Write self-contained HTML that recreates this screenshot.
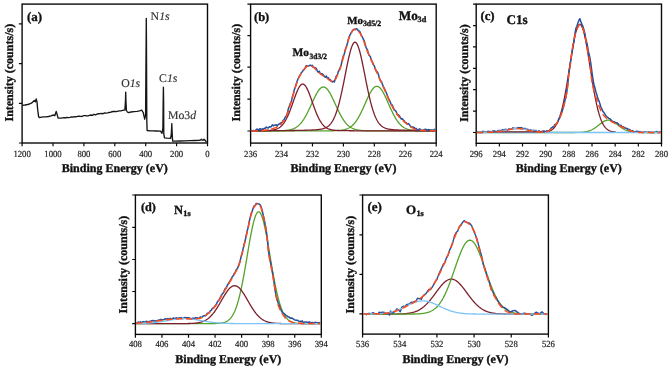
<!DOCTYPE html>
<html><head><meta charset="utf-8"><title>XPS spectra</title>
<style>html,body{margin:0;padding:0;background:#fff;} svg{display:block;will-change:transform;} text{font-family:"Liberation Serif", serif;text-rendering:geometricPrecision;} text[font-weight=bold]{stroke:#111;stroke-width:0.35px;} text.t{stroke:#222;stroke-width:0.2px;} text.l{stroke:#333;stroke-width:0.15px;}</style>
</head><body>
<svg width="669" height="367" viewBox="0 0 669 367" font-family='"Liberation Serif", serif'><rect x="22.1" y="4.1" width="185.4" height="138.9" fill="none" stroke="#0a0a0a" stroke-width="1.4"/>
<text x="22.1" y="156.6" font-size="9.3" text-anchor="middle" fill="#222" class="t" textLength="17.4" lengthAdjust="spacingAndGlyphs">1200</text>
<text x="53" y="156.6" font-size="9.3" text-anchor="middle" fill="#222" class="t" textLength="17.4" lengthAdjust="spacingAndGlyphs">1000</text>
<text x="83.9" y="156.6" font-size="9.3" text-anchor="middle" fill="#222" class="t" textLength="13.05" lengthAdjust="spacingAndGlyphs">800</text>
<text x="114.8" y="156.6" font-size="9.3" text-anchor="middle" fill="#222" class="t" textLength="13.05" lengthAdjust="spacingAndGlyphs">600</text>
<text x="145.7" y="156.6" font-size="9.3" text-anchor="middle" fill="#222" class="t" textLength="13.05" lengthAdjust="spacingAndGlyphs">400</text>
<text x="176.6" y="156.6" font-size="9.3" text-anchor="middle" fill="#222" class="t" textLength="13.05" lengthAdjust="spacingAndGlyphs">200</text>
<text x="207.5" y="156.6" font-size="9.3" text-anchor="middle" fill="#222" class="t" textLength="4.35" lengthAdjust="spacingAndGlyphs">0</text>
<path d="M22.1 143 V146.3 M53 143 V146.3 M83.9 143 V146.3 M114.8 143 V146.3 M145.7 143 V146.3 M176.6 143 V146.3 M207.5 143 V146.3 M18.9 143 H22.1 M18.9 103.3 H22.1 M18.9 63.6 H22.1 M18.9 23.9 H22.1" stroke="#0a0a0a" stroke-width="1.2" fill="none"/>
<text x="114.8" y="171.5" font-size="12" font-weight="bold" text-anchor="middle" fill="#111">Binding Energy (eV)</text>
<text transform="translate(13.4 72.7) rotate(-90)" font-size="12" font-weight="bold" text-anchor="middle" fill="#111">Intensity (counts/s)</text>
<rect x="250.6" y="4.1" width="185.6" height="139" fill="none" stroke="#0a0a0a" stroke-width="1.4"/>
<text x="250.6" y="156.6" font-size="9.3" text-anchor="middle" fill="#222" class="t" textLength="13.05" lengthAdjust="spacingAndGlyphs">236</text>
<text x="281.53" y="156.6" font-size="9.3" text-anchor="middle" fill="#222" class="t" textLength="13.05" lengthAdjust="spacingAndGlyphs">234</text>
<text x="312.47" y="156.6" font-size="9.3" text-anchor="middle" fill="#222" class="t" textLength="13.05" lengthAdjust="spacingAndGlyphs">232</text>
<text x="343.4" y="156.6" font-size="9.3" text-anchor="middle" fill="#222" class="t" textLength="13.05" lengthAdjust="spacingAndGlyphs">230</text>
<text x="374.33" y="156.6" font-size="9.3" text-anchor="middle" fill="#222" class="t" textLength="13.05" lengthAdjust="spacingAndGlyphs">228</text>
<text x="405.27" y="156.6" font-size="9.3" text-anchor="middle" fill="#222" class="t" textLength="13.05" lengthAdjust="spacingAndGlyphs">226</text>
<text x="436.2" y="156.6" font-size="9.3" text-anchor="middle" fill="#222" class="t" textLength="13.05" lengthAdjust="spacingAndGlyphs">224</text>
<path d="M250.6 143.1 V146.4 M281.53 143.1 V146.4 M312.47 143.1 V146.4 M343.4 143.1 V146.4 M374.33 143.1 V146.4 M405.27 143.1 V146.4 M436.2 143.1 V146.4 M247.4 131 H250.6 M247.4 99.1 H250.6 M247.4 67.2 H250.6 M247.4 35.6 H250.6 M247.4 4.1 H250.6" stroke="#0a0a0a" stroke-width="1.2" fill="none"/>
<text x="343.4" y="171.5" font-size="12" font-weight="bold" text-anchor="middle" fill="#111">Binding Energy (eV)</text>
<text transform="translate(240.3 72.7) rotate(-90)" font-size="12" font-weight="bold" text-anchor="middle" fill="#111">Intensity (counts/s)</text>
<rect x="476.2" y="4.1" width="185.3" height="139.2" fill="none" stroke="#0a0a0a" stroke-width="1.4"/>
<text x="476.2" y="156.8" font-size="9.3" text-anchor="middle" fill="#222" class="t" textLength="13.05" lengthAdjust="spacingAndGlyphs">296</text>
<text x="499.36" y="156.8" font-size="9.3" text-anchor="middle" fill="#222" class="t" textLength="13.05" lengthAdjust="spacingAndGlyphs">294</text>
<text x="522.52" y="156.8" font-size="9.3" text-anchor="middle" fill="#222" class="t" textLength="13.05" lengthAdjust="spacingAndGlyphs">292</text>
<text x="545.69" y="156.8" font-size="9.3" text-anchor="middle" fill="#222" class="t" textLength="13.05" lengthAdjust="spacingAndGlyphs">290</text>
<text x="568.85" y="156.8" font-size="9.3" text-anchor="middle" fill="#222" class="t" textLength="13.05" lengthAdjust="spacingAndGlyphs">288</text>
<text x="592.01" y="156.8" font-size="9.3" text-anchor="middle" fill="#222" class="t" textLength="13.05" lengthAdjust="spacingAndGlyphs">286</text>
<text x="615.17" y="156.8" font-size="9.3" text-anchor="middle" fill="#222" class="t" textLength="13.05" lengthAdjust="spacingAndGlyphs">284</text>
<text x="638.34" y="156.8" font-size="9.3" text-anchor="middle" fill="#222" class="t" textLength="13.05" lengthAdjust="spacingAndGlyphs">282</text>
<text x="661.5" y="156.8" font-size="9.3" text-anchor="middle" fill="#222" class="t" textLength="13.05" lengthAdjust="spacingAndGlyphs">280</text>
<path d="M476.2 143.3 V146.6 M499.36 143.3 V146.6 M522.52 143.3 V146.6 M545.69 143.3 V146.6 M568.85 143.3 V146.6 M592.01 143.3 V146.6 M615.17 143.3 V146.6 M638.34 143.3 V146.6 M661.5 143.3 V146.6 M473 132.5 H476.2 M473 111.1 H476.2 M473 89.7 H476.2 M473 68.3 H476.2 M473 46.9 H476.2 M473 25.6 H476.2 M473 4.1 H476.2" stroke="#0a0a0a" stroke-width="1.2" fill="none"/>
<text x="568.85" y="171.8" font-size="12" font-weight="bold" text-anchor="middle" fill="#111">Binding Energy (eV)</text>
<text transform="translate(468.4 73.2) rotate(-90)" font-size="12" font-weight="bold" text-anchor="middle" fill="#111">Intensity (counts/s)</text>
<rect x="135.4" y="195" width="185.9" height="139.4" fill="none" stroke="#0a0a0a" stroke-width="1.4"/>
<text x="135.4" y="347.3" font-size="9.3" text-anchor="middle" fill="#222" class="t" textLength="13.05" lengthAdjust="spacingAndGlyphs">408</text>
<text x="161.96" y="347.3" font-size="9.3" text-anchor="middle" fill="#222" class="t" textLength="13.05" lengthAdjust="spacingAndGlyphs">406</text>
<text x="188.51" y="347.3" font-size="9.3" text-anchor="middle" fill="#222" class="t" textLength="13.05" lengthAdjust="spacingAndGlyphs">404</text>
<text x="215.07" y="347.3" font-size="9.3" text-anchor="middle" fill="#222" class="t" textLength="13.05" lengthAdjust="spacingAndGlyphs">402</text>
<text x="241.63" y="347.3" font-size="9.3" text-anchor="middle" fill="#222" class="t" textLength="13.05" lengthAdjust="spacingAndGlyphs">400</text>
<text x="268.19" y="347.3" font-size="9.3" text-anchor="middle" fill="#222" class="t" textLength="13.05" lengthAdjust="spacingAndGlyphs">398</text>
<text x="294.74" y="347.3" font-size="9.3" text-anchor="middle" fill="#222" class="t" textLength="13.05" lengthAdjust="spacingAndGlyphs">396</text>
<text x="321.3" y="347.3" font-size="9.3" text-anchor="middle" fill="#222" class="t" textLength="13.05" lengthAdjust="spacingAndGlyphs">394</text>
<path d="M135.4 334.4 V337.7 M161.96 334.4 V337.7 M188.51 334.4 V337.7 M215.07 334.4 V337.7 M241.63 334.4 V337.7 M268.19 334.4 V337.7 M294.74 334.4 V337.7 M321.3 334.4 V337.7 M132.2 323.7 H135.4 M132.2 291.5 H135.4 M132.2 259.5 H135.4 M132.2 227.3 H135.4 M132.2 195 H135.4" stroke="#0a0a0a" stroke-width="1.2" fill="none"/>
<text x="228.35" y="363.1" font-size="12" font-weight="bold" text-anchor="middle" fill="#111">Binding Energy (eV)</text>
<text transform="translate(127.1 264.6) rotate(-90)" font-size="12" font-weight="bold" text-anchor="middle" fill="#111">Intensity (counts/s)</text>
<rect x="362.6" y="195" width="185.8" height="139.1" fill="none" stroke="#0a0a0a" stroke-width="1.4"/>
<text x="362.6" y="347.3" font-size="9.3" text-anchor="middle" fill="#222" class="t" textLength="13.05" lengthAdjust="spacingAndGlyphs">536</text>
<text x="399.76" y="347.3" font-size="9.3" text-anchor="middle" fill="#222" class="t" textLength="13.05" lengthAdjust="spacingAndGlyphs">534</text>
<text x="436.92" y="347.3" font-size="9.3" text-anchor="middle" fill="#222" class="t" textLength="13.05" lengthAdjust="spacingAndGlyphs">532</text>
<text x="474.08" y="347.3" font-size="9.3" text-anchor="middle" fill="#222" class="t" textLength="13.05" lengthAdjust="spacingAndGlyphs">530</text>
<text x="511.24" y="347.3" font-size="9.3" text-anchor="middle" fill="#222" class="t" textLength="13.05" lengthAdjust="spacingAndGlyphs">528</text>
<text x="548.4" y="347.3" font-size="9.3" text-anchor="middle" fill="#222" class="t" textLength="13.05" lengthAdjust="spacingAndGlyphs">526</text>
<path d="M362.6 334.1 V337.4 M399.76 334.1 V337.4 M436.92 334.1 V337.4 M474.08 334.1 V337.4 M511.24 334.1 V337.4 M548.4 334.1 V337.4 M359.4 313.8 H362.6 M359.4 274.4 H362.6 M359.4 234.9 H362.6 M359.4 195 H362.6" stroke="#0a0a0a" stroke-width="1.2" fill="none"/>
<text x="455.5" y="363.1" font-size="12" font-weight="bold" text-anchor="middle" fill="#111">Binding Energy (eV)</text>
<text transform="translate(354.4 264.6) rotate(-90)" font-size="12" font-weight="bold" text-anchor="middle" fill="#111">Intensity (counts/s)</text>
<path d="M22.5 105.3 L25 105 L27.6 104.5 L29.5 104 L31.4 103.2 L33.3 101.4 L34.3 100.5 L35.3 101.9 L36.2 99 L37 101.9 L37.6 109 L38.6 116.7 L39.5 117.6 L41.5 117.2 L43.8 116.9 L46 116.9 L48.6 116.5 L51 115.9 L53.4 115 L54.8 115.7 L56.2 111.4 L57.2 114.8 L58.1 118.1 L61 118.1 L62.5 117.88 L64 117.64 L65.5 117.98 L67 117.35 L68.5 117.64 L70 117.35 L71.5 116.94 L73 117.2 L74.5 116.62 L76 116.82 L77.5 116.34 L79 116.19 L80.5 116.32 L82 116.51 L83.5 115.7 L85 115.61 L86.5 115.79 L88 115.89 L89.5 115.37 L91 115.01 L92.5 115.34 L94 114.3 L95.5 114.83 L97 114.12 L98.5 113.78 L100 113.55 L101.5 113.51 L103 113.75 L104.5 112.96 L106 113.1 L107.5 112.93 L109 112.47 L110.5 112.4 L112 111.74 L113.5 111.51 L115 111.41 L116.5 111.6 L118 111.14 L119.5 110.8 L121 110.81 L122.5 110.45 L124 110.07 L124.9 110 L125.5 100 L125.7 92.1 L125.9 100 L126.4 110.5 L127.4 112 L128.4 112.6 L131 112 L134 111.6 L137 111.3 L139.5 110.8 L141.7 110.2 L143.2 112.5 L144.7 119.2 L145.6 115 L146.15 40 L146.3 18.4 L146.45 40 L146.8 120 L147.1 130.5 L150 130.8 L153 130.9 L156 131 L160.5 131.2 L162 133.4 L162.9 128 L163.2 100 L163.4 87.2 L163.6 100 L163.8 133.8 L164.5 137.9 L167 138.2 L170.6 138.3 L171.3 134 L171.65 128 L171.8 123.6 L171.95 128 L172.4 138 L172.7 141.1 L175 141.1 L180 141 L185 140.9 L190 140.7 L195 140.5 L199 140.3 L200.5 140 L201.4 139.2 L202.3 140.2 L203.3 140 L204.1 139.2 L205 140.3 L206.5 142" stroke="#151515" stroke-width="1.35" fill="none" stroke-linejoin="round"/>
<text x="27.0" y="20.9" font-size="13" font-weight="bold" fill="#111">(a)</text>
<text x="150.6" y="19.7" font-size="11.8" fill="#333" class="l">N<tspan font-style="italic">1s</tspan></text>
<text x="121.2" y="86.8" font-size="11.8" fill="#333" class="l">O<tspan font-style="italic">1s</tspan></text>
<text x="159.1" y="81.9" font-size="11.8" fill="#333" class="l">C<tspan font-style="italic">1s</tspan></text>
<text x="167.9" y="119.1" font-size="11.8" fill="#333" class="l">Mo3<tspan font-style="italic">d</tspan></text>
<path d="M251.3 130.92 L251.8 130.92 L252.3 130.92 L252.8 130.92 L253.3 130.91 L253.8 130.91 L254.3 130.91 L254.8 130.91 L255.3 130.91 L255.8 130.91 L256.3 130.91 L256.8 130.91 L257.3 130.9 L257.8 130.9 L258.3 130.9 L258.8 130.9 L259.3 130.9 L259.8 130.9 L260.3 130.89 L260.8 130.89 L261.3 130.89 L261.8 130.89 L262.3 130.89 L262.8 130.89 L263.3 130.88 L263.8 130.88 L264.3 130.88 L264.8 130.88 L265.3 130.88 L265.8 130.87 L266.3 130.87 L266.8 130.87 L267.3 130.87 L267.8 130.87 L268.3 130.86 L268.8 130.86 L269.3 130.86 L269.8 130.86 L270.3 130.85 L270.8 130.85 L271.3 130.85 L271.8 130.84 L272.3 130.84 L272.8 130.84 L273.3 130.83 L273.8 130.83 L274.3 130.82 L274.8 130.82 L275.3 130.81 L275.8 130.81 L276.3 130.8 L276.8 130.79 L277.3 130.79 L277.8 130.78 L278.3 130.77 L278.8 130.76 L279.3 130.75 L279.8 130.73 L280.3 130.72 L280.8 130.71 L281.3 130.69 L281.8 130.67 L282.3 130.65 L282.8 130.63 L283.3 130.6 L283.8 130.57 L284.3 130.54 L284.8 130.5 L285.3 130.46 L285.8 130.42 L286.3 130.37 L286.8 130.32 L287.3 130.25 L287.8 130.19 L288.3 130.11 L288.8 130.03 L289.3 129.94 L289.8 129.84 L290.3 129.73 L290.8 129.61 L291.3 129.48 L291.8 129.33 L292.3 129.17 L292.8 128.99 L293.3 128.8 L293.8 128.6 L294.3 128.37 L294.8 128.13 L295.3 127.86 L295.8 127.58 L296.3 127.27 L296.8 126.93 L297.3 126.58 L297.8 126.19 L298.3 125.78 L298.8 125.34 L299.3 124.87 L299.8 124.38 L300.3 123.85 L300.8 123.29 L301.3 122.69 L301.8 122.07 L302.3 121.41 L302.8 120.72 L303.3 119.99 L303.8 119.24 L304.3 118.44 L304.8 117.62 L305.3 116.77 L305.8 115.88 L306.3 114.96 L306.8 114.02 L307.3 113.05 L307.8 112.05 L308.3 111.03 L308.8 110 L309.3 108.94 L309.8 107.87 L310.3 106.78 L310.8 105.69 L311.3 104.59 L311.8 103.49 L312.3 102.39 L312.8 101.3 L313.3 100.21 L313.8 99.14 L314.3 98.09 L314.8 97.06 L315.3 96.06 L315.8 95.09 L316.3 94.16 L316.8 93.26 L317.3 92.41 L317.8 91.61 L318.3 90.86 L318.8 90.17 L319.3 89.54 L319.8 88.97 L320.3 88.47 L320.8 88.04 L321.3 87.68 L321.8 87.4 L322.3 87.19 L322.8 87.06 L323.3 87 L323.8 87.02 L324.3 87.13 L324.8 87.3 L325.3 87.56 L325.8 87.89 L326.3 88.29 L326.8 88.77 L327.3 89.31 L327.8 89.91 L328.3 90.58 L328.8 91.31 L329.3 92.09 L329.8 92.92 L330.3 93.79 L330.8 94.71 L331.3 95.67 L331.8 96.66 L332.3 97.68 L332.8 98.72 L333.3 99.78 L333.8 100.86 L334.3 101.95 L334.8 103.05 L335.3 104.15 L335.8 105.25 L336.3 106.35 L336.8 107.43 L337.3 108.51 L337.8 109.57 L338.3 110.62 L338.8 111.65 L339.3 112.65 L339.8 113.63 L340.3 114.59 L340.8 115.52 L341.3 116.41 L341.8 117.28 L342.3 118.12 L342.8 118.92 L343.3 119.69 L343.8 120.43 L344.3 121.14 L344.8 121.81 L345.3 122.45 L345.8 123.05 L346.3 123.63 L346.8 124.17 L347.3 124.68 L347.8 125.16 L348.3 125.61 L348.8 126.03 L349.3 126.43 L349.8 126.79 L350.3 127.14 L350.8 127.45 L351.3 127.75 L351.8 128.02 L352.3 128.28 L352.8 128.51 L353.3 128.72 L353.8 128.92 L354.3 129.1 L354.8 129.27 L355.3 129.42 L355.8 129.56 L356.3 129.68 L356.8 129.8 L357.3 129.9 L357.8 130 L358.3 130.08 L358.8 130.16 L359.3 130.23 L359.8 130.29 L360.3 130.35 L360.8 130.4 L361.3 130.45 L361.8 130.49 L362.3 130.53 L362.8 130.56 L363.3 130.59 L363.8 130.62 L364.3 130.64 L364.8 130.66 L365.3 130.68 L365.8 130.7 L366.3 130.71 L366.8 130.73 L367.3 130.74 L367.8 130.75 L368.3 130.76 L368.8 130.77 L369.3 130.78 L369.8 130.79 L370.3 130.8 L370.8 130.8 L371.3 130.81 L371.8 130.81 L372.3 130.82 L372.8 130.82 L373.3 130.83 L373.8 130.83 L374.3 130.84 L374.8 130.84 L375.3 130.84 L375.8 130.85 L376.3 130.85 L376.8 130.85 L377.3 130.86 L377.8 130.86 L378.3 130.86 L378.8 130.86 L379.3 130.87 L379.8 130.87 L380.3 130.87 L380.8 130.87 L381.3 130.88 L381.8 130.88 L382.3 130.88 L382.8 130.88 L383.3 130.88 L383.8 130.89 L384.3 130.89 L384.8 130.89 L385.3 130.89 L385.8 130.89 L386.3 130.89 L386.8 130.9 L387.3 130.9 L387.8 130.9 L388.3 130.9 L388.8 130.9 L389.3 130.9 L389.8 130.9 L390.3 130.91 L390.8 130.91 L391.3 130.91 L391.8 130.91 L392.3 130.91 L392.8 130.91 L393.3 130.91 L393.8 130.91 L394.3 130.92 L394.8 130.92 L395.3 130.92 L395.8 130.92 L396.3 130.92 L396.8 130.92 L397.3 130.92 L397.8 130.92 L398.3 130.92 L398.8 130.93 L399.3 130.93 L399.8 130.93 L400.3 130.93 L400.8 130.93 L401.3 130.93 L401.8 130.93 L402.3 130.93 L402.8 130.93 L403.3 130.93 L403.8 130.93 L404.3 130.93 L404.8 130.94 L405.3 130.94 L405.8 130.94 L406.3 130.94 L406.8 130.94 L407.3 130.94 L407.8 130.94 L408.3 130.94 L408.8 130.94 L409.3 130.94 L409.8 130.94 L410.3 130.94 L410.8 130.94 L411.3 130.94 L411.8 130.95 L412.3 130.95 L412.8 130.95 L413.3 130.95 L413.8 130.95 L414.3 130.95 L414.8 130.95 L415.3 130.95 L415.8 130.95 L416.3 130.95 L416.8 130.95 L417.3 130.95 L417.8 130.95 L418.3 130.95 L418.8 130.95 L419.3 130.95 L419.8 130.95 L420.3 130.95 L420.8 130.95 L421.3 130.96 L421.8 130.96 L422.3 130.96 L422.8 130.96 L423.3 130.96 L423.8 130.96 L424.3 130.96 L424.8 130.96 L425.3 130.96 L425.8 130.96 L426.3 130.96 L426.8 130.96 L427.3 130.96 L427.8 130.96 L428.3 130.96 L428.8 130.96 L429.3 130.96 L429.8 130.96 L430.3 130.96 L430.8 130.96 L431.3 130.96 L431.8 130.96 L432.3 130.96 L432.8 130.96 L433.3 130.96 L433.8 130.96 L434.3 130.96 L434.8 130.97 L435.3 130.97" stroke="#55a22a" stroke-width="1.3" fill="none" stroke-linejoin="round"/>
<path d="M251.3 130.97 L251.8 130.97 L252.3 130.97 L252.8 130.97 L253.3 130.97 L253.8 130.97 L254.3 130.97 L254.8 130.97 L255.3 130.97 L255.8 130.97 L256.3 130.97 L256.8 130.97 L257.3 130.97 L257.8 130.97 L258.3 130.97 L258.8 130.97 L259.3 130.97 L259.8 130.97 L260.3 130.97 L260.8 130.97 L261.3 130.97 L261.8 130.97 L262.3 130.97 L262.8 130.97 L263.3 130.97 L263.8 130.97 L264.3 130.97 L264.8 130.97 L265.3 130.97 L265.8 130.97 L266.3 130.97 L266.8 130.96 L267.3 130.96 L267.8 130.96 L268.3 130.96 L268.8 130.96 L269.3 130.96 L269.8 130.96 L270.3 130.96 L270.8 130.96 L271.3 130.96 L271.8 130.96 L272.3 130.96 L272.8 130.96 L273.3 130.96 L273.8 130.96 L274.3 130.96 L274.8 130.96 L275.3 130.96 L275.8 130.96 L276.3 130.96 L276.8 130.96 L277.3 130.96 L277.8 130.96 L278.3 130.96 L278.8 130.96 L279.3 130.96 L279.8 130.96 L280.3 130.95 L280.8 130.95 L281.3 130.95 L281.8 130.95 L282.3 130.95 L282.8 130.95 L283.3 130.95 L283.8 130.95 L284.3 130.95 L284.8 130.95 L285.3 130.95 L285.8 130.95 L286.3 130.95 L286.8 130.95 L287.3 130.95 L287.8 130.95 L288.3 130.95 L288.8 130.95 L289.3 130.95 L289.8 130.94 L290.3 130.94 L290.8 130.94 L291.3 130.94 L291.8 130.94 L292.3 130.94 L292.8 130.94 L293.3 130.94 L293.8 130.94 L294.3 130.94 L294.8 130.94 L295.3 130.94 L295.8 130.94 L296.3 130.94 L296.8 130.93 L297.3 130.93 L297.8 130.93 L298.3 130.93 L298.8 130.93 L299.3 130.93 L299.8 130.93 L300.3 130.93 L300.8 130.93 L301.3 130.93 L301.8 130.93 L302.3 130.92 L302.8 130.92 L303.3 130.92 L303.8 130.92 L304.3 130.92 L304.8 130.92 L305.3 130.92 L305.8 130.92 L306.3 130.92 L306.8 130.92 L307.3 130.91 L307.8 130.91 L308.3 130.91 L308.8 130.91 L309.3 130.91 L309.8 130.91 L310.3 130.91 L310.8 130.91 L311.3 130.9 L311.8 130.9 L312.3 130.9 L312.8 130.9 L313.3 130.9 L313.8 130.9 L314.3 130.89 L314.8 130.89 L315.3 130.89 L315.8 130.89 L316.3 130.89 L316.8 130.89 L317.3 130.88 L317.8 130.88 L318.3 130.88 L318.8 130.88 L319.3 130.88 L319.8 130.87 L320.3 130.87 L320.8 130.87 L321.3 130.87 L321.8 130.87 L322.3 130.86 L322.8 130.86 L323.3 130.86 L323.8 130.85 L324.3 130.85 L324.8 130.85 L325.3 130.85 L325.8 130.84 L326.3 130.84 L326.8 130.83 L327.3 130.83 L327.8 130.83 L328.3 130.82 L328.8 130.82 L329.3 130.81 L329.8 130.81 L330.3 130.8 L330.8 130.79 L331.3 130.78 L331.8 130.78 L332.3 130.77 L332.8 130.76 L333.3 130.75 L333.8 130.73 L334.3 130.72 L334.8 130.7 L335.3 130.69 L335.8 130.67 L336.3 130.65 L336.8 130.62 L337.3 130.6 L337.8 130.57 L338.3 130.54 L338.8 130.5 L339.3 130.46 L339.8 130.41 L340.3 130.36 L340.8 130.31 L341.3 130.24 L341.8 130.17 L342.3 130.1 L342.8 130.01 L343.3 129.92 L343.8 129.81 L344.3 129.7 L344.8 129.57 L345.3 129.43 L345.8 129.28 L346.3 129.11 L346.8 128.93 L347.3 128.73 L347.8 128.51 L348.3 128.27 L348.8 128.02 L349.3 127.74 L349.8 127.43 L350.3 127.11 L350.8 126.76 L351.3 126.38 L351.8 125.97 L352.3 125.54 L352.8 125.07 L353.3 124.58 L353.8 124.05 L354.3 123.49 L354.8 122.89 L355.3 122.27 L355.8 121.6 L356.3 120.91 L356.8 120.17 L357.3 119.41 L357.8 118.61 L358.3 117.77 L358.8 116.9 L359.3 116 L359.8 115.06 L360.3 114.1 L360.8 113.1 L361.3 112.08 L361.8 111.04 L362.3 109.97 L362.8 108.88 L363.3 107.78 L363.8 106.66 L364.3 105.53 L364.8 104.4 L365.3 103.26 L365.8 102.13 L366.3 101 L366.8 99.87 L367.3 98.77 L367.8 97.68 L368.3 96.61 L368.8 95.58 L369.3 94.57 L369.8 93.6 L370.3 92.68 L370.8 91.8 L371.3 90.97 L371.8 90.2 L372.3 89.49 L372.8 88.84 L373.3 88.26 L373.8 87.75 L374.3 87.31 L374.8 86.95 L375.3 86.67 L375.8 86.46 L376.3 86.34 L376.8 86.3 L377.3 86.34 L377.8 86.46 L378.3 86.67 L378.8 86.95 L379.3 87.31 L379.8 87.75 L380.3 88.26 L380.8 88.84 L381.3 89.49 L381.8 90.2 L382.3 90.97 L382.8 91.8 L383.3 92.68 L383.8 93.6 L384.3 94.57 L384.8 95.58 L385.3 96.61 L385.8 97.68 L386.3 98.77 L386.8 99.87 L387.3 101 L387.8 102.13 L388.3 103.26 L388.8 104.4 L389.3 105.53 L389.8 106.66 L390.3 107.78 L390.8 108.88 L391.3 109.97 L391.8 111.04 L392.3 112.08 L392.8 113.1 L393.3 114.1 L393.8 115.06 L394.3 116 L394.8 116.9 L395.3 117.77 L395.8 118.61 L396.3 119.41 L396.8 120.17 L397.3 120.91 L397.8 121.6 L398.3 122.27 L398.8 122.89 L399.3 123.49 L399.8 124.05 L400.3 124.58 L400.8 125.07 L401.3 125.54 L401.8 125.97 L402.3 126.38 L402.8 126.76 L403.3 127.11 L403.8 127.43 L404.3 127.74 L404.8 128.02 L405.3 128.27 L405.8 128.51 L406.3 128.73 L406.8 128.93 L407.3 129.11 L407.8 129.28 L408.3 129.43 L408.8 129.57 L409.3 129.7 L409.8 129.81 L410.3 129.92 L410.8 130.01 L411.3 130.1 L411.8 130.17 L412.3 130.24 L412.8 130.31 L413.3 130.36 L413.8 130.41 L414.3 130.46 L414.8 130.5 L415.3 130.54 L415.8 130.57 L416.3 130.6 L416.8 130.62 L417.3 130.65 L417.8 130.67 L418.3 130.69 L418.8 130.7 L419.3 130.72 L419.8 130.73 L420.3 130.75 L420.8 130.76 L421.3 130.77 L421.8 130.78 L422.3 130.78 L422.8 130.79 L423.3 130.8 L423.8 130.81 L424.3 130.81 L424.8 130.82 L425.3 130.82 L425.8 130.83 L426.3 130.83 L426.8 130.83 L427.3 130.84 L427.8 130.84 L428.3 130.85 L428.8 130.85 L429.3 130.85 L429.8 130.85 L430.3 130.86 L430.8 130.86 L431.3 130.86 L431.8 130.87 L432.3 130.87 L432.8 130.87 L433.3 130.87 L433.8 130.87 L434.3 130.88 L434.8 130.88 L435.3 130.88" stroke="#55a22a" stroke-width="1.3" fill="none" stroke-linejoin="round"/>
<path d="M251.3 130.77 L251.8 130.77 L252.3 130.77 L252.8 130.76 L253.3 130.76 L253.8 130.75 L254.3 130.75 L254.8 130.74 L255.3 130.74 L255.8 130.73 L256.3 130.73 L256.8 130.72 L257.3 130.71 L257.8 130.71 L258.3 130.7 L258.8 130.7 L259.3 130.69 L259.8 130.68 L260.3 130.67 L260.8 130.66 L261.3 130.66 L261.8 130.65 L262.3 130.64 L262.8 130.63 L263.3 130.62 L263.8 130.6 L264.3 130.59 L264.8 130.58 L265.3 130.56 L265.8 130.55 L266.3 130.53 L266.8 130.51 L267.3 130.49 L267.8 130.46 L268.3 130.44 L268.8 130.41 L269.3 130.37 L269.8 130.34 L270.3 130.29 L270.8 130.25 L271.3 130.19 L271.8 130.13 L272.3 130.07 L272.8 129.99 L273.3 129.91 L273.8 129.81 L274.3 129.7 L274.8 129.58 L275.3 129.45 L275.8 129.3 L276.3 129.13 L276.8 128.94 L277.3 128.73 L277.8 128.5 L278.3 128.24 L278.8 127.96 L279.3 127.64 L279.8 127.3 L280.3 126.92 L280.8 126.51 L281.3 126.05 L281.8 125.56 L282.3 125.03 L282.8 124.45 L283.3 123.83 L283.8 123.15 L284.3 122.43 L284.8 121.66 L285.3 120.84 L285.8 119.97 L286.3 119.04 L286.8 118.06 L287.3 117.03 L287.8 115.95 L288.3 114.83 L288.8 113.65 L289.3 112.43 L289.8 111.17 L290.3 109.87 L290.8 108.53 L291.3 107.17 L291.8 105.78 L292.3 104.38 L292.8 102.96 L293.3 101.53 L293.8 100.11 L294.3 98.7 L294.8 97.31 L295.3 95.94 L295.8 94.6 L296.3 93.31 L296.8 92.07 L297.3 90.89 L297.8 89.78 L298.3 88.74 L298.8 87.79 L299.3 86.94 L299.8 86.19 L300.3 85.54 L300.8 85.01 L301.3 84.6 L301.8 84.31 L302.3 84.14 L302.8 84.1 L303.3 84.19 L303.8 84.41 L304.3 84.75 L304.8 85.21 L305.3 85.79 L305.8 86.48 L306.3 87.27 L306.8 88.16 L307.3 89.15 L307.8 90.21 L308.3 91.35 L308.8 92.56 L309.3 93.82 L309.8 95.13 L310.3 96.48 L310.8 97.86 L311.3 99.26 L311.8 100.68 L312.3 102.1 L312.8 103.53 L313.3 104.94 L313.8 106.34 L314.3 107.72 L314.8 109.07 L315.3 110.39 L315.8 111.68 L316.3 112.92 L316.8 114.13 L317.3 115.28 L317.8 116.39 L318.3 117.45 L318.8 118.46 L319.3 119.42 L319.8 120.32 L320.3 121.18 L320.8 121.98 L321.3 122.73 L321.8 123.43 L322.3 124.08 L322.8 124.69 L323.3 125.25 L323.8 125.76 L324.3 126.24 L324.8 126.68 L325.3 127.08 L325.8 127.44 L326.3 127.77 L326.8 128.07 L327.3 128.35 L327.8 128.59 L328.3 128.82 L328.8 129.02 L329.3 129.2 L329.8 129.36 L330.3 129.5 L330.8 129.63 L331.3 129.75 L331.8 129.85 L332.3 129.94 L332.8 130.02 L333.3 130.09 L333.8 130.16 L334.3 130.22 L334.8 130.27 L335.3 130.31 L335.8 130.35 L336.3 130.39 L336.8 130.42 L337.3 130.45 L337.8 130.47 L338.3 130.5 L338.8 130.52 L339.3 130.54 L339.8 130.55 L340.3 130.57 L340.8 130.58 L341.3 130.6 L341.8 130.61 L342.3 130.62 L342.8 130.63 L343.3 130.64 L343.8 130.65 L344.3 130.66 L344.8 130.67 L345.3 130.68 L345.8 130.68 L346.3 130.69 L346.8 130.7 L347.3 130.7 L347.8 130.71 L348.3 130.72 L348.8 130.72 L349.3 130.73 L349.8 130.73 L350.3 130.74 L350.8 130.74 L351.3 130.75 L351.8 130.75 L352.3 130.76 L352.8 130.76 L353.3 130.77 L353.8 130.77 L354.3 130.78 L354.8 130.78 L355.3 130.78 L355.8 130.79 L356.3 130.79 L356.8 130.8 L357.3 130.8 L357.8 130.8 L358.3 130.81 L358.8 130.81 L359.3 130.81 L359.8 130.82 L360.3 130.82 L360.8 130.82 L361.3 130.82 L361.8 130.83 L362.3 130.83 L362.8 130.83 L363.3 130.84 L363.8 130.84 L364.3 130.84 L364.8 130.84 L365.3 130.85 L365.8 130.85 L366.3 130.85 L366.8 130.85 L367.3 130.85 L367.8 130.86 L368.3 130.86 L368.8 130.86 L369.3 130.86 L369.8 130.87 L370.3 130.87 L370.8 130.87 L371.3 130.87 L371.8 130.87 L372.3 130.87 L372.8 130.88 L373.3 130.88 L373.8 130.88 L374.3 130.88 L374.8 130.88 L375.3 130.88 L375.8 130.89 L376.3 130.89 L376.8 130.89 L377.3 130.89 L377.8 130.89 L378.3 130.89 L378.8 130.89 L379.3 130.9 L379.8 130.9 L380.3 130.9 L380.8 130.9 L381.3 130.9 L381.8 130.9 L382.3 130.9 L382.8 130.9 L383.3 130.91 L383.8 130.91 L384.3 130.91 L384.8 130.91 L385.3 130.91 L385.8 130.91 L386.3 130.91 L386.8 130.91 L387.3 130.91 L387.8 130.92 L388.3 130.92 L388.8 130.92 L389.3 130.92 L389.8 130.92 L390.3 130.92 L390.8 130.92 L391.3 130.92 L391.8 130.92 L392.3 130.92 L392.8 130.92 L393.3 130.93 L393.8 130.93 L394.3 130.93 L394.8 130.93 L395.3 130.93 L395.8 130.93 L396.3 130.93 L396.8 130.93 L397.3 130.93 L397.8 130.93 L398.3 130.93 L398.8 130.93 L399.3 130.93 L399.8 130.93 L400.3 130.94 L400.8 130.94 L401.3 130.94 L401.8 130.94 L402.3 130.94 L402.8 130.94 L403.3 130.94 L403.8 130.94 L404.3 130.94 L404.8 130.94 L405.3 130.94 L405.8 130.94 L406.3 130.94 L406.8 130.94 L407.3 130.94 L407.8 130.94 L408.3 130.94 L408.8 130.95 L409.3 130.95 L409.8 130.95 L410.3 130.95 L410.8 130.95 L411.3 130.95 L411.8 130.95 L412.3 130.95 L412.8 130.95 L413.3 130.95 L413.8 130.95 L414.3 130.95 L414.8 130.95 L415.3 130.95 L415.8 130.95 L416.3 130.95 L416.8 130.95 L417.3 130.95 L417.8 130.95 L418.3 130.95 L418.8 130.95 L419.3 130.95 L419.8 130.95 L420.3 130.96 L420.8 130.96 L421.3 130.96 L421.8 130.96 L422.3 130.96 L422.8 130.96 L423.3 130.96 L423.8 130.96 L424.3 130.96 L424.8 130.96 L425.3 130.96 L425.8 130.96 L426.3 130.96 L426.8 130.96 L427.3 130.96 L427.8 130.96 L428.3 130.96 L428.8 130.96 L429.3 130.96 L429.8 130.96 L430.3 130.96 L430.8 130.96 L431.3 130.96 L431.8 130.96 L432.3 130.96 L432.8 130.96 L433.3 130.96 L433.8 130.96 L434.3 130.96 L434.8 130.96 L435.3 130.96" stroke="#7d1f2d" stroke-width="1.3" fill="none" stroke-linejoin="round"/>
<path d="M251.3 130.82 L251.8 130.82 L252.3 130.82 L252.8 130.82 L253.3 130.81 L253.8 130.81 L254.3 130.81 L254.8 130.81 L255.3 130.81 L255.8 130.8 L256.3 130.8 L256.8 130.8 L257.3 130.8 L257.8 130.8 L258.3 130.79 L258.8 130.79 L259.3 130.79 L259.8 130.79 L260.3 130.79 L260.8 130.78 L261.3 130.78 L261.8 130.78 L262.3 130.78 L262.8 130.77 L263.3 130.77 L263.8 130.77 L264.3 130.77 L264.8 130.76 L265.3 130.76 L265.8 130.76 L266.3 130.76 L266.8 130.75 L267.3 130.75 L267.8 130.75 L268.3 130.74 L268.8 130.74 L269.3 130.74 L269.8 130.74 L270.3 130.73 L270.8 130.73 L271.3 130.73 L271.8 130.72 L272.3 130.72 L272.8 130.72 L273.3 130.71 L273.8 130.71 L274.3 130.71 L274.8 130.7 L275.3 130.7 L275.8 130.69 L276.3 130.69 L276.8 130.69 L277.3 130.68 L277.8 130.68 L278.3 130.68 L278.8 130.67 L279.3 130.67 L279.8 130.66 L280.3 130.66 L280.8 130.65 L281.3 130.65 L281.8 130.64 L282.3 130.64 L282.8 130.63 L283.3 130.63 L283.8 130.62 L284.3 130.62 L284.8 130.61 L285.3 130.61 L285.8 130.6 L286.3 130.6 L286.8 130.59 L287.3 130.59 L287.8 130.58 L288.3 130.57 L288.8 130.57 L289.3 130.56 L289.8 130.55 L290.3 130.55 L290.8 130.54 L291.3 130.53 L291.8 130.53 L292.3 130.52 L292.8 130.51 L293.3 130.5 L293.8 130.5 L294.3 130.49 L294.8 130.48 L295.3 130.47 L295.8 130.46 L296.3 130.45 L296.8 130.45 L297.3 130.44 L297.8 130.43 L298.3 130.42 L298.8 130.41 L299.3 130.4 L299.8 130.39 L300.3 130.38 L300.8 130.36 L301.3 130.35 L301.8 130.34 L302.3 130.33 L302.8 130.32 L303.3 130.31 L303.8 130.29 L304.3 130.28 L304.8 130.26 L305.3 130.25 L305.8 130.24 L306.3 130.22 L306.8 130.21 L307.3 130.19 L307.8 130.17 L308.3 130.16 L308.8 130.14 L309.3 130.12 L309.8 130.1 L310.3 130.08 L310.8 130.06 L311.3 130.04 L311.8 130.02 L312.3 129.99 L312.8 129.97 L313.3 129.94 L313.8 129.91 L314.3 129.88 L314.8 129.85 L315.3 129.82 L315.8 129.78 L316.3 129.74 L316.8 129.7 L317.3 129.66 L317.8 129.61 L318.3 129.56 L318.8 129.5 L319.3 129.44 L319.8 129.37 L320.3 129.29 L320.8 129.21 L321.3 129.12 L321.8 129.01 L322.3 128.9 L322.8 128.78 L323.3 128.64 L323.8 128.48 L324.3 128.31 L324.8 128.12 L325.3 127.92 L325.8 127.68 L326.3 127.43 L326.8 127.14 L327.3 126.83 L327.8 126.48 L328.3 126.1 L328.8 125.68 L329.3 125.22 L329.8 124.71 L330.3 124.16 L330.8 123.55 L331.3 122.89 L331.8 122.17 L332.3 121.39 L332.8 120.54 L333.3 119.63 L333.8 118.64 L334.3 117.58 L334.8 116.44 L335.3 115.22 L335.8 113.92 L336.3 112.53 L336.8 111.06 L337.3 109.5 L337.8 107.86 L338.3 106.12 L338.8 104.31 L339.3 102.4 L339.8 100.41 L340.3 98.35 L340.8 96.2 L341.3 93.98 L341.8 91.7 L342.3 89.35 L342.8 86.95 L343.3 84.51 L343.8 82.02 L344.3 79.51 L344.8 76.97 L345.3 74.43 L345.8 71.89 L346.3 69.37 L346.8 66.88 L347.3 64.43 L347.8 62.03 L348.3 59.71 L348.8 57.47 L349.3 55.33 L349.8 53.3 L350.3 51.4 L350.8 49.65 L351.3 48.05 L351.8 46.62 L352.3 45.38 L352.8 44.33 L353.3 43.48 L353.8 42.84 L354.3 42.42 L354.8 42.22 L355.3 42.24 L355.8 42.49 L356.3 42.95 L356.8 43.63 L357.3 44.52 L357.8 45.61 L358.3 46.89 L358.8 48.36 L359.3 49.99 L359.8 51.77 L360.3 53.7 L360.8 55.75 L361.3 57.91 L361.8 60.17 L362.3 62.51 L362.8 64.91 L363.3 67.38 L363.8 69.88 L364.3 72.4 L364.8 74.94 L365.3 77.48 L365.8 80.01 L366.3 82.52 L366.8 85 L367.3 87.44 L367.8 89.83 L368.3 92.16 L368.8 94.43 L369.3 96.64 L369.8 98.77 L370.3 100.82 L370.8 102.79 L371.3 104.68 L371.8 106.48 L372.3 108.19 L372.8 109.82 L373.3 111.36 L373.8 112.82 L374.3 114.19 L374.8 115.47 L375.3 116.67 L375.8 117.8 L376.3 118.84 L376.8 119.81 L377.3 120.72 L377.8 121.55 L378.3 122.32 L378.8 123.03 L379.3 123.68 L379.8 124.27 L380.3 124.82 L380.8 125.31 L381.3 125.77 L381.8 126.18 L382.3 126.55 L382.8 126.89 L383.3 127.2 L383.8 127.48 L384.3 127.73 L384.8 127.96 L385.3 128.16 L385.8 128.35 L386.3 128.52 L386.8 128.67 L387.3 128.8 L387.8 128.92 L388.3 129.03 L388.8 129.13 L389.3 129.22 L389.8 129.31 L390.3 129.38 L390.8 129.45 L391.3 129.51 L391.8 129.57 L392.3 129.62 L392.8 129.67 L393.3 129.71 L393.8 129.75 L394.3 129.79 L394.8 129.83 L395.3 129.86 L395.8 129.89 L396.3 129.92 L396.8 129.95 L397.3 129.97 L397.8 130 L398.3 130.02 L398.8 130.04 L399.3 130.06 L399.8 130.08 L400.3 130.1 L400.8 130.12 L401.3 130.14 L401.8 130.16 L402.3 130.18 L402.8 130.19 L403.3 130.21 L403.8 130.22 L404.3 130.24 L404.8 130.25 L405.3 130.27 L405.8 130.28 L406.3 130.29 L406.8 130.31 L407.3 130.32 L407.8 130.33 L408.3 130.34 L408.8 130.36 L409.3 130.37 L409.8 130.38 L410.3 130.39 L410.8 130.4 L411.3 130.41 L411.8 130.42 L412.3 130.43 L412.8 130.44 L413.3 130.45 L413.8 130.46 L414.3 130.47 L414.8 130.47 L415.3 130.48 L415.8 130.49 L416.3 130.5 L416.8 130.51 L417.3 130.51 L417.8 130.52 L418.3 130.53 L418.8 130.54 L419.3 130.54 L419.8 130.55 L420.3 130.56 L420.8 130.56 L421.3 130.57 L421.8 130.57 L422.3 130.58 L422.8 130.59 L423.3 130.59 L423.8 130.6 L424.3 130.6 L424.8 130.61 L425.3 130.62 L425.8 130.62 L426.3 130.63 L426.8 130.63 L427.3 130.64 L427.8 130.64 L428.3 130.65 L428.8 130.65 L429.3 130.65 L429.8 130.66 L430.3 130.66 L430.8 130.67 L431.3 130.67 L431.8 130.68 L432.3 130.68 L432.8 130.68 L433.3 130.69 L433.8 130.69 L434.3 130.7 L434.8 130.7 L435.3 130.7" stroke="#7d1f2d" stroke-width="1.3" fill="none" stroke-linejoin="round"/>
<path d="M251.2 131.2 L251.3 130.32 L252.3 130.9 L253.3 130.42 L254.3 130.84 L255.3 130.77 L256.3 129.39 L257.3 129.06 L258.3 130.61 L259.3 129.05 L260.3 128.74 L261.3 130.19 L262.3 128.8 L263.3 129.38 L264.3 128.34 L265.3 128.42 L266.3 127.02 L267.3 127.73 L268.3 127.91 L269.3 126.84 L270.3 127.01 L271.3 126.53 L272.3 124.8 L273.3 125.76 L274.3 125.25 L275.3 125.14 L276.3 124.73 L277.3 126.02 L278.3 124.41 L279.3 124.02 L280.3 123.5 L281.3 122.48 L282.3 122.25 L283.3 120.13 L284.3 119.55 L285.3 116.9 L286.3 115.92 L287.3 113.42 L288.3 109.02 L289.3 106.21 L290.3 103.38 L291.3 101.85 L292.3 97.16 L293.3 93.95 L294.3 89.73 L295.3 86.99 L296.3 83.65 L297.3 80.63 L298.3 78.49 L299.3 76.28 L300.3 75.04 L301.3 72.76 L302.3 71.72 L303.3 70.19 L304.3 69.38 L305.3 67.66 L306.3 65.57 L307.3 66.28 L308.3 65.94 L309.3 65.59 L310.3 65.03 L311.3 65.81 L312.3 65.33 L313.3 67.37 L314.3 67.54 L315.3 67.84 L316.3 68.37 L317.3 71.09 L318.3 72.33 L319.3 71.31 L320.3 73.8 L321.3 73.76 L322.3 73.86 L323.3 74.74 L324.3 76.32 L325.3 77.13 L326.3 76 L327.3 78.08 L328.3 77.66 L329.3 79.85 L330.3 79.55 L331.3 81.29 L332.3 81.95 L333.3 81.17 L334.3 82.04 L335.3 78.89 L336.3 76.06 L337.3 75.1 L338.3 71.66 L339.3 69.6 L340.3 67.33 L341.3 64.52 L342.3 59.89 L343.3 55.92 L344.3 54.15 L345.3 49.35 L346.3 47.24 L347.3 43.8 L348.3 39.4 L349.3 36.57 L350.3 34.32 L351.3 32.54 L352.3 30.74 L353.3 29.67 L354.3 29.25 L355.3 29.62 L356.3 28.71 L357.3 29.21 L358.3 30.9 L359.3 31.02 L360.3 32.53 L361.3 35.76 L362.3 36.75 L363.3 39.2 L364.3 40.87 L365.3 44.79 L366.3 48.11 L367.3 49.49 L368.3 53.18 L369.3 55.49 L370.3 56.43 L371.3 59.85 L372.3 61.67 L373.3 64.37 L374.3 65.88 L375.3 68.89 L376.3 71.19 L377.3 71.85 L378.3 74.17 L379.3 77.76 L380.3 80.64 L381.3 81.32 L382.3 84.02 L383.3 86.58 L384.3 88.23 L385.3 90.58 L386.3 92.81 L387.3 95.32 L388.3 98.18 L389.3 99.8 L390.3 102.09 L391.3 104.85 L392.3 104.99 L393.3 107.91 L394.3 109.93 L395.3 110.58 L396.3 111.89 L397.3 114.58 L398.3 114.65 L399.3 115.74 L400.3 117.38 L401.3 118.98 L402.3 118.62 L403.3 120 L404.3 120.87 L405.3 122.77 L406.3 122.67 L407.3 124.32 L408.3 123.52 L409.3 124.6 L410.3 126.02 L411.3 127.29 L412.3 127.05 L413.3 127.22 L414.3 127.55 L415.3 128.89 L416.3 128.42 L417.3 129.94 L418.3 130.16 L419.3 128.85 L420.3 129.17 L421.3 130.42 L422.3 130.13 L423.3 130.55 L424.3 129.58 L425.3 129.14 L426.3 129.53 L427.3 130.67 L428.3 129.54 L429.3 129.73 L430.3 129.91 L431.3 129.93 L432.3 129.93 L433.3 131.07 L434.3 129.41 L435.3 129.11" stroke="#24509c" stroke-width="1.5" fill="none" stroke-linejoin="round"/>
<path d="M251.3 131 L251.8 130.99 L252.3 130.97 L252.8 130.96 L253.3 130.95 L253.8 130.93 L254.3 130.92 L254.8 130.91 L255.3 130.89 L255.8 130.88 L256.3 130.86 L256.8 130.85 L257.3 130.83 L257.8 130.81 L258.3 130.79 L258.8 130.76 L259.3 130.73 L259.8 130.7 L260.3 130.66 L260.8 130.62 L261.3 130.58 L261.8 130.54 L262.3 130.49 L262.8 130.44 L263.3 130.39 L263.8 130.34 L264.3 130.28 L264.8 130.22 L265.3 130.16 L265.8 130.1 L266.3 130.03 L266.8 129.95 L267.3 129.87 L267.8 129.78 L268.3 129.69 L268.8 129.59 L269.3 129.49 L269.8 129.38 L270.3 129.27 L270.8 129.15 L271.3 129.02 L271.8 128.89 L272.3 128.76 L272.8 128.61 L273.3 128.46 L273.8 128.29 L274.3 128.11 L274.8 127.92 L275.3 127.71 L275.8 127.49 L276.3 127.25 L276.8 127 L277.3 126.73 L277.8 126.45 L278.3 126.15 L278.8 125.83 L279.3 125.5 L279.8 125.15 L280.3 124.77 L280.8 124.33 L281.3 123.83 L281.8 123.27 L282.3 122.65 L282.8 121.99 L283.3 121.28 L283.8 120.52 L284.3 119.71 L284.8 118.87 L285.3 117.99 L285.8 117.08 L286.3 116.1 L286.8 114.98 L287.3 113.72 L287.8 112.35 L288.3 110.88 L288.8 109.36 L289.3 107.79 L289.8 106.2 L290.3 104.62 L290.8 103.05 L291.3 101.39 L291.8 99.65 L292.3 97.86 L292.8 96.05 L293.3 94.25 L293.8 92.47 L294.3 90.76 L294.8 89.12 L295.3 87.58 L295.8 86.03 L296.3 84.5 L296.8 83 L297.3 81.56 L297.8 80.18 L298.3 78.9 L298.8 77.74 L299.3 76.69 L299.8 75.7 L300.3 74.75 L300.8 73.83 L301.3 72.96 L301.8 72.14 L302.3 71.37 L302.8 70.66 L303.3 70.01 L303.8 69.42 L304.3 68.9 L304.8 68.39 L305.3 67.88 L305.8 67.39 L306.3 66.91 L306.8 66.47 L307.3 66.09 L307.8 65.76 L308.3 65.51 L308.8 65.36 L309.3 65.3 L309.8 65.35 L310.3 65.48 L310.8 65.68 L311.3 65.94 L311.8 66.24 L312.3 66.57 L312.8 66.9 L313.3 67.24 L313.8 67.58 L314.3 67.98 L314.8 68.43 L315.3 68.91 L315.8 69.42 L316.3 69.93 L316.8 70.43 L317.3 70.91 L317.8 71.37 L318.3 71.85 L318.8 72.33 L319.3 72.81 L319.8 73.28 L320.3 73.74 L320.8 74.16 L321.3 74.55 L321.8 74.91 L322.3 75.22 L322.8 75.52 L323.3 75.79 L323.8 76.06 L324.3 76.33 L324.8 76.61 L325.3 76.91 L325.8 77.24 L326.3 77.61 L326.8 78.01 L327.3 78.43 L327.8 78.85 L328.3 79.26 L328.8 79.64 L329.3 79.97 L329.8 80.25 L330.3 80.52 L330.8 80.79 L331.3 81.05 L331.8 81.29 L332.3 81.49 L332.8 81.66 L333.3 81.76 L333.8 81.8 L334.3 81.55 L334.8 80.87 L335.3 79.9 L335.8 78.77 L336.3 77.59 L336.8 76.5 L337.3 75.48 L337.8 74.41 L338.3 73.29 L338.8 72.11 L339.3 70.87 L339.8 69.55 L340.3 68.13 L340.8 66.57 L341.3 64.87 L341.8 63.09 L342.3 61.25 L342.8 59.38 L343.3 57.52 L343.8 55.71 L344.3 53.94 L344.8 52.16 L345.3 50.36 L345.8 48.58 L346.3 46.83 L346.8 45.15 L347.3 43.53 L347.8 41.89 L348.3 40.26 L348.8 38.71 L349.3 37.26 L349.8 35.98 L350.3 34.88 L350.8 33.82 L351.3 32.82 L351.8 31.9 L352.3 31.13 L352.8 30.52 L353.3 30.14 L353.8 29.85 L354.3 29.59 L354.8 29.39 L355.3 29.25 L355.8 29.2 L356.3 29.3 L356.8 29.56 L357.3 29.96 L357.8 30.46 L358.3 31.02 L358.8 31.61 L359.3 32.2 L359.8 32.83 L360.3 33.57 L360.8 34.4 L361.3 35.31 L361.8 36.28 L362.3 37.3 L362.8 38.42 L363.3 39.69 L363.8 41.08 L364.3 42.54 L364.8 44.06 L365.3 45.58 L365.8 47.08 L366.3 48.53 L366.8 49.89 L367.3 51.14 L367.8 52.35 L368.3 53.53 L368.8 54.67 L369.3 55.8 L369.8 56.91 L370.3 58 L370.8 59.09 L371.3 60.17 L371.8 61.25 L372.3 62.35 L372.8 63.45 L373.3 64.57 L373.8 65.69 L374.3 66.81 L374.8 67.92 L375.3 69.04 L375.8 70.15 L376.3 71.27 L376.8 72.38 L377.3 73.5 L377.8 74.62 L378.3 75.73 L378.8 76.85 L379.3 77.97 L379.8 79.09 L380.3 80.22 L380.8 81.34 L381.3 82.47 L381.8 83.59 L382.3 84.72 L382.8 85.85 L383.3 86.97 L383.8 88.1 L384.3 89.22 L384.8 90.35 L385.3 91.48 L385.8 92.64 L386.3 93.82 L386.8 95.01 L387.3 96.2 L387.8 97.39 L388.3 98.57 L388.8 99.72 L389.3 100.84 L389.8 101.92 L390.3 102.96 L390.8 103.93 L391.3 104.85 L391.8 105.75 L392.3 106.63 L392.8 107.5 L393.3 108.36 L393.8 109.2 L394.3 110.02 L394.8 110.82 L395.3 111.6 L395.8 112.36 L396.3 113.1 L396.8 113.82 L397.3 114.51 L397.8 115.18 L398.3 115.82 L398.8 116.44 L399.3 117.03 L399.8 117.59 L400.3 118.13 L400.8 118.64 L401.3 119.14 L401.8 119.63 L402.3 120.1 L402.8 120.55 L403.3 120.99 L403.8 121.42 L404.3 121.84 L404.8 122.24 L405.3 122.64 L405.8 123.02 L406.3 123.4 L406.8 123.77 L407.3 124.14 L407.8 124.5 L408.3 124.85 L408.8 125.2 L409.3 125.56 L409.8 125.92 L410.3 126.29 L410.8 126.67 L411.3 127.04 L411.8 127.41 L412.3 127.76 L412.8 128.1 L413.3 128.42 L413.8 128.72 L414.3 128.99 L414.8 129.23 L415.3 129.43 L415.8 129.59 L416.3 129.7 L416.8 129.79 L417.3 129.87 L417.8 129.95 L418.3 130.02 L418.8 130.08 L419.3 130.15 L419.8 130.2 L420.3 130.25 L420.8 130.3 L421.3 130.35 L421.8 130.38 L422.3 130.42 L422.8 130.45 L423.3 130.48 L423.8 130.5 L424.3 130.52 L424.8 130.54 L425.3 130.56 L425.8 130.58 L426.3 130.59 L426.8 130.61 L427.3 130.62 L427.8 130.63 L428.3 130.65 L428.8 130.66 L429.3 130.67 L429.8 130.68 L430.3 130.69 L430.8 130.7 L431.3 130.71 L431.8 130.72 L432.3 130.73 L432.8 130.74 L433.3 130.75 L433.8 130.76 L434.3 130.77 L434.8 130.78 L435.3 130.79" stroke="#ff4a1c" stroke-width="1.5" fill="none" stroke-linejoin="round" stroke-dasharray="6.5 3.5"/>
<text x="254.0" y="20.5" font-size="12.5" font-weight="bold" fill="#111">(b)</text>
<text x="292.6" y="55.8" font-size="11.4" font-weight="bold" fill="#111">Mo</text><text x="309.6" y="58.5" font-size="8" font-weight="bold" fill="#111" textLength="17.3" lengthAdjust="spacingAndGlyphs">3d3/2</text>
<text x="347.3" y="23.75" font-size="10.9" font-weight="bold" fill="#111">Mo</text><text x="362.9" y="26.0" font-size="8" font-weight="bold" fill="#111" textLength="18.3" lengthAdjust="spacingAndGlyphs">3d5/2</text>
<text x="398.8" y="19.6" font-size="13.2" font-weight="bold" fill="#111">Mo</text><text x="417.6" y="21.8" font-size="8.2" font-weight="bold" fill="#111">3d</text>
<path d="M476.9 132.5 L477.4 132.5 L477.9 132.5 L478.4 132.5 L478.9 132.5 L479.4 132.5 L479.9 132.5 L480.4 132.5 L480.9 132.5 L481.4 132.5 L481.9 132.5 L482.4 132.5 L482.9 132.5 L483.4 132.5 L483.9 132.5 L484.4 132.5 L484.9 132.5 L485.4 132.5 L485.9 132.5 L486.4 132.5 L486.9 132.5 L487.4 132.5 L487.9 132.5 L488.4 132.5 L488.9 132.5 L489.4 132.5 L489.9 132.5 L490.4 132.5 L490.9 132.5 L491.4 132.5 L491.9 132.5 L492.4 132.5 L492.9 132.5 L493.4 132.5 L493.9 132.5 L494.4 132.5 L494.9 132.5 L495.4 132.5 L495.9 132.5 L496.4 132.5 L496.9 132.5 L497.4 132.5 L497.9 132.5 L498.4 132.5 L498.9 132.5 L499.4 132.5 L499.9 132.5 L500.4 132.5 L500.9 132.5 L501.4 132.5 L501.9 132.5 L502.4 132.5 L502.9 132.5 L503.4 132.5 L503.9 132.5 L504.4 132.5 L504.9 132.5 L505.4 132.5 L505.9 132.5 L506.4 132.5 L506.9 132.5 L507.4 132.5 L507.9 132.5 L508.4 132.5 L508.9 132.5 L509.4 132.5 L509.9 132.5 L510.4 132.5 L510.9 132.5 L511.4 132.5 L511.9 132.5 L512.4 132.5 L512.9 132.5 L513.4 132.5 L513.9 132.5 L514.4 132.5 L514.9 132.5 L515.4 132.5 L515.9 132.5 L516.4 132.5 L516.9 132.5 L517.4 132.5 L517.9 132.5 L518.4 132.5 L518.9 132.5 L519.4 132.5 L519.9 132.5 L520.4 132.5 L520.9 132.5 L521.4 132.5 L521.9 132.5 L522.4 132.5 L522.9 132.5 L523.4 132.5 L523.9 132.5 L524.4 132.5 L524.9 132.5 L525.4 132.5 L525.9 132.5 L526.4 132.5 L526.9 132.5 L527.4 132.5 L527.9 132.5 L528.4 132.5 L528.9 132.5 L529.4 132.5 L529.9 132.5 L530.4 132.5 L530.9 132.5 L531.4 132.5 L531.9 132.5 L532.4 132.5 L532.9 132.5 L533.4 132.5 L533.9 132.5 L534.4 132.5 L534.9 132.5 L535.4 132.5 L535.9 132.5 L536.4 132.5 L536.9 132.5 L537.4 132.5 L537.9 132.5 L538.4 132.5 L538.9 132.5 L539.4 132.5 L539.9 132.5 L540.4 132.5 L540.9 132.5 L541.4 132.5 L541.9 132.5 L542.4 132.5 L542.9 132.5 L543.4 132.5 L543.9 132.5 L544.4 132.5 L544.9 132.5 L545.4 132.5 L545.9 132.5 L546.4 132.5 L546.9 132.5 L547.4 132.5 L547.9 132.5 L548.4 132.5 L548.9 132.5 L549.4 132.5 L549.9 132.5 L550.4 132.5 L550.9 132.5 L551.4 132.5 L551.9 132.5 L552.4 132.5 L552.9 132.5 L553.4 132.5 L553.9 132.5 L554.4 132.5 L554.9 132.5 L555.4 132.5 L555.9 132.5 L556.4 132.5 L556.9 132.5 L557.4 132.5 L557.9 132.5 L558.4 132.5 L558.9 132.5 L559.4 132.5 L559.9 132.5 L560.4 132.5 L560.9 132.5 L561.4 132.5 L561.9 132.5 L562.4 132.5 L562.9 132.5 L563.4 132.5 L563.9 132.5 L564.4 132.5 L564.9 132.5 L565.4 132.5 L565.9 132.5 L566.4 132.5 L566.9 132.5 L567.4 132.5 L567.9 132.5 L568.4 132.5 L568.9 132.5 L569.4 132.5 L569.9 132.5 L570.4 132.5 L570.9 132.49 L571.4 132.49 L571.9 132.49 L572.4 132.49 L572.9 132.49 L573.4 132.49 L573.9 132.48 L574.4 132.48 L574.9 132.48 L575.4 132.47 L575.9 132.46 L576.4 132.46 L576.9 132.45 L577.4 132.44 L577.9 132.43 L578.4 132.42 L578.9 132.4 L579.4 132.38 L579.9 132.36 L580.4 132.34 L580.9 132.31 L581.4 132.28 L581.9 132.25 L582.4 132.21 L582.9 132.16 L583.4 132.11 L583.9 132.05 L584.4 131.99 L584.9 131.92 L585.4 131.84 L585.9 131.75 L586.4 131.65 L586.9 131.54 L587.4 131.42 L587.9 131.29 L588.4 131.15 L588.9 130.99 L589.4 130.82 L589.9 130.64 L590.4 130.44 L590.9 130.23 L591.4 130 L591.9 129.76 L592.4 129.5 L592.9 129.22 L593.4 128.94 L593.9 128.63 L594.4 128.31 L594.9 127.98 L595.4 127.64 L595.9 127.28 L596.4 126.92 L596.9 126.54 L597.4 126.16 L597.9 125.77 L598.4 125.37 L598.9 124.98 L599.4 124.58 L599.9 124.19 L600.4 123.8 L600.9 123.42 L601.4 123.05 L601.9 122.69 L602.4 122.34 L602.9 122.01 L603.4 121.7 L603.9 121.42 L604.4 121.15 L604.9 120.91 L605.4 120.7 L605.9 120.52 L606.4 120.37 L606.9 120.25 L607.4 120.17 L607.9 120.12 L608.4 120.1 L608.9 120.12 L609.4 120.17 L609.9 120.25 L610.4 120.37 L610.9 120.52 L611.4 120.7 L611.9 120.91 L612.4 121.15 L612.9 121.42 L613.4 121.7 L613.9 122.01 L614.4 122.34 L614.9 122.69 L615.4 123.05 L615.9 123.42 L616.4 123.8 L616.9 124.19 L617.4 124.58 L617.9 124.98 L618.4 125.37 L618.9 125.77 L619.4 126.16 L619.9 126.54 L620.4 126.92 L620.9 127.28 L621.4 127.64 L621.9 127.98 L622.4 128.31 L622.9 128.63 L623.4 128.94 L623.9 129.22 L624.4 129.5 L624.9 129.76 L625.4 130 L625.9 130.23 L626.4 130.44 L626.9 130.64 L627.4 130.82 L627.9 130.99 L628.4 131.15 L628.9 131.29 L629.4 131.42 L629.9 131.54 L630.4 131.65 L630.9 131.75 L631.4 131.84 L631.9 131.92 L632.4 131.99 L632.9 132.05 L633.4 132.11 L633.9 132.16 L634.4 132.21 L634.9 132.25 L635.4 132.28 L635.9 132.31 L636.4 132.34 L636.9 132.36 L637.4 132.38 L637.9 132.4 L638.4 132.42 L638.9 132.43 L639.4 132.44 L639.9 132.45 L640.4 132.46 L640.9 132.46 L641.4 132.47 L641.9 132.48 L642.4 132.48 L642.9 132.48 L643.4 132.49 L643.9 132.49 L644.4 132.49 L644.9 132.49 L645.4 132.49 L645.9 132.49 L646.4 132.5 L646.9 132.5 L647.4 132.5 L647.9 132.5 L648.4 132.5 L648.9 132.5 L649.4 132.5 L649.9 132.5 L650.4 132.5 L650.9 132.5 L651.4 132.5 L651.9 132.5 L652.4 132.5 L652.9 132.5 L653.4 132.5 L653.9 132.5 L654.4 132.5 L654.9 132.5 L655.4 132.5 L655.9 132.5 L656.4 132.5 L656.9 132.5 L657.4 132.5 L657.9 132.5 L658.4 132.5 L658.9 132.5 L659.4 132.5 L659.9 132.5 L660.4 132.5" stroke="#55a22a" stroke-width="1.3" fill="none" stroke-linejoin="round"/>
<path d="M545.4 131.94 L545.9 131.88 L546.4 131.8 L546.9 131.71 L547.4 131.62 L547.9 131.5 L548.4 131.37 L548.9 131.22 L549.4 131.05 L549.9 130.85 L550.4 130.63 L550.9 130.38 L551.4 130.09 L551.9 129.77 L552.4 129.41 L552.9 129.01 L553.4 128.56 L553.9 128.05 L554.4 127.5 L554.9 126.88 L555.4 126.19 L555.9 125.44 L556.4 124.61 L556.9 123.71 L557.4 122.72 L557.9 121.64 L558.4 120.47 L558.9 119.2 L559.4 117.83 L559.9 116.35 L560.4 114.77 L560.9 113.07 L561.4 111.26 L561.9 109.34 L562.4 107.3 L562.9 105.15 L563.4 102.88 L563.9 100.5 L564.4 98.01 L564.9 95.41 L565.4 92.71 L565.9 89.91 L566.4 87.03 L566.9 84.06 L567.4 81.02 L567.9 77.93 L568.4 74.78 L568.9 71.6 L569.4 68.4 L569.9 65.19 L570.4 61.99 L570.9 58.81 L571.4 55.67 L571.9 52.59 L572.4 49.59 L572.9 46.67 L573.4 43.87 L573.9 41.2 L574.4 38.67 L574.9 36.3 L575.4 34.1 L575.9 32.1 L576.4 30.3 L576.9 28.72 L577.4 27.37 L577.9 26.26 L578.4 25.39 L578.9 24.77 L579.4 24.41 L579.9 24.3 L580.4 24.46 L580.9 24.87 L581.4 25.54 L581.9 26.46 L582.4 27.62 L582.9 29.02 L583.4 30.65 L583.9 32.49 L584.4 34.53 L584.9 36.76 L585.4 39.16 L585.9 41.72 L586.4 44.42 L586.9 47.25 L587.4 50.18 L587.9 53.2 L588.4 56.29 L588.9 59.44 L589.4 62.63 L589.9 65.83 L590.4 69.04 L590.9 72.24 L591.4 75.42 L591.9 78.55 L592.4 81.64 L592.9 84.66 L593.4 87.61 L593.9 90.48 L594.4 93.25 L594.9 95.94 L595.4 98.51 L595.9 100.98 L596.4 103.34 L596.9 105.59 L597.4 107.72 L597.9 109.74 L598.4 111.64 L598.9 113.42 L599.4 115.09 L599.9 116.65 L600.4 118.11 L600.9 119.46 L601.4 120.71 L601.9 121.86 L602.4 122.92 L602.9 123.9 L603.4 124.79 L603.9 125.6 L604.4 126.34 L604.9 127.01 L605.4 127.61 L605.9 128.16 L606.4 128.65 L606.9 129.09 L607.4 129.49 L607.9 129.84 L608.4 130.15 L608.9 130.43 L609.4 130.67 L609.9 130.89 L610.4 131.08 L610.9 131.25 L611.4 131.4 L611.9 131.52 L612.4 131.64 L612.9 131.73 L613.4 131.82 L613.9 131.89 L614.4 131.95 L614.9 132.01 L615.4 132.05 L615.9 132.09" stroke="#7d1f2d" stroke-width="1.3" fill="none" stroke-linejoin="round"/>
<path d="M476.9 132.07 L477.9 132.22 L478.9 132.29 L479.9 132.48 L480.9 132.18 L481.9 132.43 L482.9 131.17 L483.9 131.77 L484.9 132.42 L485.9 131.99 L486.9 132.33 L487.9 131.21 L488.9 131.68 L489.9 131.35 L490.9 131.73 L491.9 131.72 L492.9 130.87 L493.9 131.08 L494.9 131.07 L495.9 131.87 L496.9 131.55 L497.9 130.58 L498.9 131.35 L499.9 130.31 L500.9 130.83 L501.9 129.97 L502.9 129.59 L503.9 130.58 L504.9 129.43 L505.9 129.21 L506.9 130.08 L507.9 129.74 L508.9 128.75 L509.9 129.5 L510.9 128.72 L511.9 128.73 L512.9 127.9 L513.9 128.77 L514.9 128.3 L515.9 128.6 L516.9 128.45 L517.9 127.63 L518.9 127.79 L519.9 127.63 L520.9 127.75 L521.9 127.81 L522.9 128.33 L523.9 128.95 L524.9 128.31 L525.9 129.43 L526.9 129.14 L527.9 129.3 L528.9 130.24 L529.9 130 L530.9 129.99 L531.9 130.44 L532.9 130.96 L533.9 130.23 L534.9 131.65 L535.9 130.44 L536.9 131.57 L537.9 131.82 L538.9 130.76 L539.9 131.93 L540.9 131.42 L541.9 131.77 L542.9 131.01 L543.9 131.06 L544.9 131.16 L545.9 132.08 L546.9 130.8 L547.9 131.19 L548.9 130.75 L549.9 129.97 L550.9 128.36 L551.9 127.6 L552.9 126.99 L553.9 126.4 L554.9 124.43 L555.9 124.15 L556.9 122.87 L557.9 121.39 L558.9 118.43 L559.9 117.65 L560.9 114.13 L561.9 111.79 L562.9 108.8 L563.9 105.39 L564.9 100.59 L565.9 97.03 L566.9 91.12 L567.9 82.99 L568.9 72.6 L569.9 66.09 L570.9 59.65 L571.9 53.14 L572.9 47.4 L573.9 41.6 L574.9 34.04 L575.9 28.4 L576.9 26.19 L577.9 23.07 L578.9 20.43 L579.9 18.68 L580.9 21.77 L581.9 24.39 L582.9 26.44 L583.9 29.81 L584.9 33.66 L585.9 39.53 L586.9 42.92 L587.9 48.41 L588.9 53.78 L589.9 57.72 L590.9 64.11 L591.9 71.85 L592.9 79 L593.9 84.41 L594.9 87.75 L595.9 91.95 L596.9 94.91 L597.9 98.87 L598.9 100.85 L599.9 103.72 L600.9 107.03 L601.9 109.17 L602.9 111.38 L603.9 112.42 L604.9 114.1 L605.9 115.89 L606.9 116.77 L607.9 117.46 L608.9 118.43 L609.9 118.78 L610.9 119.73 L611.9 121.17 L612.9 121.68 L613.9 121.76 L614.9 122.14 L615.9 122.49 L616.9 122.7 L617.9 123.51 L618.9 124.76 L619.9 125.4 L620.9 125.21 L621.9 126.32 L622.9 126.82 L623.9 127.22 L624.9 127.71 L625.9 128.39 L626.9 128.38 L627.9 129.38 L628.9 129.26 L629.9 129.94 L630.9 130.69 L631.9 130.92 L632.9 130.68 L633.9 131.87 L634.9 131.67 L635.9 131.7 L636.9 130.99 L637.9 131.81 L638.9 131.46 L639.9 132.1 L640.9 131.86 L641.9 132.39 L642.9 132.18 L643.9 132.41 L644.9 131.79 L645.9 132.2 L646.9 132.33 L647.9 132.46 L648.9 131.79 L649.9 132.48 L650.9 132.52 L651.9 132.26 L652.9 132.67 L653.9 132.64 L654.9 132.03 L655.9 132.04 L656.9 131.53 L657.9 132.47 L658.9 132.61 L659.9 131.97 L660.9 132.27" stroke="#24509c" stroke-width="1.5" fill="none" stroke-linejoin="round"/>
<path d="M476.9 132.5 L660.8 132.5" stroke="#7cc4f5" stroke-width="1.3" fill="none" stroke-linejoin="round"/>
<path d="M490.4 132.18 L490.9 132.15 L491.4 132.11 L491.9 132.08 L492.4 132.04 L492.9 132 L493.4 131.95 L493.9 131.91 L494.4 131.86 L494.9 131.81 L495.4 131.75 L495.9 131.69 L496.4 131.63 L496.9 131.57 L497.4 131.5 L497.9 131.43 L498.4 131.36 L498.9 131.28 L499.4 131.2 L499.9 131.12 L500.4 131.04 L500.9 130.95 L501.4 130.86 L501.9 130.77 L502.4 130.68 L502.9 130.58 L503.4 130.49 L503.9 130.39 L504.4 130.29 L504.9 130.19 L505.4 130.1 L505.9 130 L506.4 129.9 L506.9 129.8 L507.4 129.71 L507.9 129.61 L508.4 129.52 L508.9 129.43 L509.4 129.34 L509.9 129.26 L510.4 129.18 L510.9 129.1 L511.4 129.03 L511.9 128.96 L512.4 128.9 L512.9 128.84 L513.4 128.79 L513.9 128.74 L514.4 128.7 L514.9 128.67 L515.4 128.64 L515.9 128.62 L516.4 128.61 L516.9 128.6 L517.4 128.6 L517.9 128.61 L518.4 128.62 L518.9 128.64 L519.4 128.66 L519.9 128.7 L520.4 128.74 L520.9 128.78 L521.4 128.83 L521.9 128.89 L522.4 128.95 L522.9 129.02 L523.4 129.09 L523.9 129.16 L524.4 129.24 L524.9 129.33 L525.4 129.41 L525.9 129.5 L526.4 129.59 L526.9 129.69 L527.4 129.78 L527.9 129.88 L528.4 129.98 L528.9 130.08 L529.4 130.17 L529.9 130.27 L530.4 130.37 L530.9 130.47 L531.4 130.56 L531.9 130.66 L532.4 130.75 L532.9 130.84 L533.4 130.93 L533.9 131.02 L534.4 131.1 L534.9 131.19 L535.4 131.27 L535.9 131.34 L536.4 131.42 L536.9 131.49 L537.4 131.55 L537.9 131.62 L538.4 131.68 L538.9 131.74 L539.4 131.8 L539.9 131.85 L540.4 131.9 L540.9 131.95 L541.4 131.99 L541.9 132.03 L542.4 132.07 L542.9 132.11 L543.4 132.14 L543.9 132.17 L544.4 132.2 L544.9 132.23" stroke="#7cc4f5" stroke-width="1.3" fill="none" stroke-linejoin="round"/>
<path d="M493 131.9 L545 131.9" stroke="#7d1f2d" stroke-width="1.2" fill="none" stroke-linejoin="round"/>
<path d="M476.9 132.5 L477.4 132.49 L477.9 132.49 L478.4 132.48 L478.9 132.47 L479.4 132.47 L479.9 132.46 L480.4 132.45 L480.9 132.45 L481.4 132.44 L481.9 132.44 L482.4 132.43 L482.9 132.43 L483.4 132.42 L483.9 132.41 L484.4 132.41 L484.9 132.4 L485.4 132.39 L485.9 132.39 L486.4 132.38 L486.9 132.37 L487.4 132.36 L487.9 132.35 L488.4 132.34 L488.9 132.33 L489.4 132.32 L489.9 132.3 L490.4 132.29 L490.9 132.27 L491.4 132.25 L491.9 132.22 L492.4 132.19 L492.9 132.15 L493.4 132.11 L493.9 132.07 L494.4 132.03 L494.9 131.98 L495.4 131.93 L495.9 131.88 L496.4 131.83 L496.9 131.77 L497.4 131.72 L497.9 131.66 L498.4 131.6 L498.9 131.54 L499.4 131.48 L499.9 131.41 L500.4 131.35 L500.9 131.27 L501.4 131.18 L501.9 131.09 L502.4 130.99 L502.9 130.88 L503.4 130.78 L503.9 130.66 L504.4 130.55 L504.9 130.44 L505.4 130.32 L505.9 130.21 L506.4 130.1 L506.9 130 L507.4 129.91 L507.9 129.82 L508.4 129.73 L508.9 129.64 L509.4 129.55 L509.9 129.46 L510.4 129.36 L510.9 129.27 L511.4 129.17 L511.9 129.08 L512.4 128.99 L512.9 128.91 L513.4 128.83 L513.9 128.76 L514.4 128.69 L514.9 128.63 L515.4 128.58 L515.9 128.54 L516.4 128.52 L516.9 128.5 L517.4 128.5 L517.9 128.51 L518.4 128.54 L518.9 128.58 L519.4 128.63 L519.9 128.69 L520.4 128.76 L520.9 128.84 L521.4 128.93 L521.9 129.02 L522.4 129.11 L522.9 129.21 L523.4 129.31 L523.9 129.41 L524.4 129.5 L524.9 129.6 L525.4 129.69 L525.9 129.78 L526.4 129.87 L526.9 129.96 L527.4 130.07 L527.9 130.17 L528.4 130.28 L528.9 130.39 L529.4 130.51 L529.9 130.62 L530.4 130.74 L530.9 130.85 L531.4 130.96 L531.9 131.07 L532.4 131.17 L532.9 131.27 L533.4 131.36 L533.9 131.45 L534.4 131.52 L534.9 131.59 L535.4 131.65 L535.9 131.71 L536.4 131.76 L536.9 131.82 L537.4 131.88 L537.9 131.94 L538.4 131.99 L538.9 132.04 L539.4 132.09 L539.9 132.13 L540.4 132.17 L540.9 132.21 L541.4 132.24 L541.9 132.26 L542.4 132.28 L542.9 132.29 L543.4 132.3 L543.9 132.29 L544.4 132.26 L544.9 132.2 L545.4 132.13 L545.9 132.04 L546.4 131.94 L546.9 131.82 L547.4 131.67 L547.9 131.43 L548.4 131.12 L548.9 130.75 L549.4 130.36 L549.9 129.95 L550.4 129.55 L550.9 129.18 L551.4 128.8 L551.9 128.4 L552.4 127.99 L552.9 127.55 L553.4 127.1 L553.9 126.61 L554.4 126.11 L554.9 125.57 L555.4 125.01 L555.9 124.41 L556.4 123.76 L556.9 123.06 L557.4 122.3 L557.9 121.48 L558.4 120.61 L558.9 119.68 L559.4 118.68 L559.9 117.62 L560.4 116.5 L560.9 115.3 L561.4 114.04 L561.9 112.61 L562.4 111 L562.9 109.24 L563.4 107.37 L563.9 105.4 L564.4 103.42 L564.9 101.41 L565.4 99.31 L565.9 97.03 L566.4 94.51 L566.9 91.66 L567.4 88.41 L567.9 83.86 L568.4 77.95 L568.9 73.47 L569.4 70.21 L569.9 67.28 L570.4 64.1 L570.9 60.25 L571.4 56.02 L571.9 51.89 L572.4 48.31 L572.9 45.38 L573.4 42.6 L573.9 39.98 L574.4 37.56 L574.9 35.38 L575.4 33.49 L575.9 31.93 L576.4 30.66 L576.9 29.43 L577.4 28.26 L577.9 27.17 L578.4 26.22 L578.9 25.44 L579.4 24.87 L579.9 24.55 L580.4 24.53 L580.9 24.85 L581.4 25.49 L581.9 26.38 L582.4 27.47 L582.9 28.71 L583.4 30.03 L583.9 31.4 L584.4 33.05 L584.9 35.18 L585.4 37.66 L585.9 40.39 L586.4 43.23 L586.9 46.06 L587.4 48.77 L587.9 51.41 L588.4 54.1 L588.9 56.93 L589.4 59.99 L589.9 63.37 L590.4 67.59 L590.9 72.81 L591.4 77.73 L591.9 81.22 L592.4 83.99 L592.9 86.43 L593.4 88.59 L593.9 90.57 L594.4 92.42 L594.9 94.21 L595.4 95.9 L595.9 97.47 L596.4 98.95 L596.9 100.36 L597.4 101.71 L597.9 103.02 L598.4 104.34 L598.9 105.66 L599.4 106.95 L599.9 108.22 L600.4 109.44 L600.9 110.6 L601.4 111.69 L601.9 112.69 L602.4 113.58 L602.9 114.36 L603.4 115.03 L603.9 115.65 L604.4 116.22 L604.9 116.75 L605.4 117.24 L605.9 117.7 L606.4 118.13 L606.9 118.54 L607.4 118.92 L607.9 119.3 L608.4 119.65 L608.9 119.99 L609.4 120.31 L609.9 120.62 L610.4 120.91 L610.9 121.2 L611.4 121.48 L611.9 121.75 L612.4 122.02 L612.9 122.28 L613.4 122.55 L613.9 122.81 L614.4 123.08 L614.9 123.35 L615.4 123.62 L615.9 123.89 L616.4 124.16 L616.9 124.43 L617.4 124.69 L617.9 124.96 L618.4 125.22 L618.9 125.48 L619.4 125.74 L619.9 126 L620.4 126.25 L620.9 126.5 L621.4 126.75 L621.9 127 L622.4 127.24 L622.9 127.48 L623.4 127.72 L623.9 127.95 L624.4 128.19 L624.9 128.42 L625.4 128.66 L625.9 128.9 L626.4 129.13 L626.9 129.36 L627.4 129.58 L627.9 129.8 L628.4 130.01 L628.9 130.2 L629.4 130.39 L629.9 130.57 L630.4 130.73 L630.9 130.9 L631.4 131.07 L631.9 131.24 L632.4 131.4 L632.9 131.56 L633.4 131.7 L633.9 131.84 L634.4 131.95 L634.9 132.05 L635.4 132.13 L635.9 132.19 L636.4 132.23 L636.9 132.27 L637.4 132.31 L637.9 132.34 L638.4 132.37 L638.9 132.4 L639.4 132.43 L639.9 132.46 L640.4 132.49 L640.9 132.51 L641.4 132.53 L641.9 132.55 L642.4 132.56 L642.9 132.57 L643.4 132.59 L643.9 132.59 L644.4 132.6 L644.9 132.6 L645.4 132.6 L645.9 132.6 L646.4 132.6 L646.9 132.6 L647.4 132.6 L647.9 132.6 L648.4 132.6 L648.9 132.6 L649.4 132.6 L649.9 132.6 L650.4 132.6 L650.9 132.6 L651.4 132.6 L651.9 132.6 L652.4 132.6 L652.9 132.6 L653.4 132.6 L653.9 132.6 L654.4 132.6 L654.9 132.6 L655.4 132.6 L655.9 132.6 L656.4 132.6 L656.9 132.6 L657.4 132.6 L657.9 132.6 L658.4 132.6 L658.9 132.6 L659.4 132.6 L659.9 132.6 L660.4 132.6 L660.9 132.6" stroke="#ff4a1c" stroke-width="1.5" fill="none" stroke-linejoin="round" stroke-dasharray="6.5 3.5"/>
<text x="480.4" y="20.3" font-size="12.8" font-weight="bold" fill="#111">(c)</text>
<text x="506.5" y="24.1" font-size="13.2" font-weight="bold" fill="#111">C1s</text>
<path d="M136.1 323.6 L136.6 323.6 L137.1 323.6 L137.6 323.6 L138.1 323.6 L138.6 323.6 L139.1 323.6 L139.6 323.6 L140.1 323.6 L140.6 323.6 L141.1 323.6 L141.6 323.6 L142.1 323.6 L142.6 323.6 L143.1 323.6 L143.6 323.6 L144.1 323.6 L144.6 323.6 L145.1 323.6 L145.6 323.6 L146.1 323.6 L146.6 323.6 L147.1 323.6 L147.6 323.6 L148.1 323.6 L148.6 323.6 L149.1 323.6 L149.6 323.6 L150.1 323.6 L150.6 323.6 L151.1 323.6 L151.6 323.6 L152.1 323.6 L152.6 323.6 L153.1 323.6 L153.6 323.6 L154.1 323.6 L154.6 323.6 L155.1 323.6 L155.6 323.6 L156.1 323.6 L156.6 323.6 L157.1 323.6 L157.6 323.6 L158.1 323.6 L158.6 323.6 L159.1 323.6 L159.6 323.6 L160.1 323.6 L160.6 323.6 L161.1 323.6 L161.6 323.6 L162.1 323.6 L162.6 323.6 L163.1 323.6 L163.6 323.6 L164.1 323.6 L164.6 323.6 L165.1 323.6 L165.6 323.6 L166.1 323.6 L166.6 323.6 L167.1 323.6 L167.6 323.6 L168.1 323.6 L168.6 323.6 L169.1 323.6 L169.6 323.6 L170.1 323.6 L170.6 323.6 L171.1 323.6 L171.6 323.6 L172.1 323.6 L172.6 323.6 L173.1 323.6 L173.6 323.6 L174.1 323.6 L174.6 323.6 L175.1 323.6 L175.6 323.6 L176.1 323.6 L176.6 323.6 L177.1 323.6 L177.6 323.6 L178.1 323.6 L178.6 323.6 L179.1 323.6 L179.6 323.6 L180.1 323.6 L180.6 323.6 L181.1 323.6 L181.6 323.6 L182.1 323.6 L182.6 323.6 L183.1 323.6 L183.6 323.6 L184.1 323.6 L184.6 323.6 L185.1 323.6 L185.6 323.6 L186.1 323.6 L186.6 323.6 L187.1 323.6 L187.6 323.6 L188.1 323.6 L188.6 323.6 L189.1 323.6 L189.6 323.6 L190.1 323.6 L190.6 323.6 L191.1 323.6 L191.6 323.6 L192.1 323.6 L192.6 323.6 L193.1 323.6 L193.6 323.6 L194.1 323.6 L194.6 323.6 L195.1 323.6 L195.6 323.6 L196.1 323.6 L196.6 323.6 L197.1 323.6 L197.6 323.6 L198.1 323.6 L198.6 323.6 L199.1 323.6 L199.6 323.6 L200.1 323.6 L200.6 323.6 L201.1 323.6 L201.6 323.6 L202.1 323.6 L202.6 323.6 L203.1 323.6 L203.6 323.6 L204.1 323.6 L204.6 323.6 L205.1 323.6 L205.6 323.6 L206.1 323.6 L206.6 323.6 L207.1 323.6 L207.6 323.59 L208.1 323.59 L208.6 323.59 L209.1 323.59 L209.6 323.59 L210.1 323.59 L210.6 323.58 L211.1 323.58 L211.6 323.58 L212.1 323.57 L212.6 323.57 L213.1 323.56 L213.6 323.55 L214.1 323.55 L214.6 323.53 L215.1 323.52 L215.6 323.51 L216.1 323.49 L216.6 323.47 L217.1 323.45 L217.6 323.43 L218.1 323.4 L218.6 323.36 L219.1 323.32 L219.6 323.28 L220.1 323.23 L220.6 323.17 L221.1 323.1 L221.6 323.02 L222.1 322.94 L222.6 322.84 L223.1 322.72 L223.6 322.6 L224.1 322.45 L224.6 322.29 L225.1 322.11 L225.6 321.91 L226.1 321.68 L226.6 321.42 L227.1 321.14 L227.6 320.83 L228.1 320.48 L228.6 320.1 L229.1 319.67 L229.6 319.2 L230.1 318.69 L230.6 318.12 L231.1 317.51 L231.6 316.83 L232.1 316.1 L232.6 315.3 L233.1 314.44 L233.6 313.5 L234.1 312.5 L234.6 311.41 L235.1 310.24 L235.6 308.99 L236.1 307.66 L236.6 306.23 L237.1 304.72 L237.6 303.11 L238.1 301.4 L238.6 299.61 L239.1 297.71 L239.6 295.72 L240.1 293.64 L240.6 291.46 L241.1 289.19 L241.6 286.82 L242.1 284.38 L242.6 281.85 L243.1 279.24 L243.6 276.56 L244.1 273.81 L244.6 271 L245.1 268.15 L245.6 265.25 L246.1 262.31 L246.6 259.36 L247.1 256.38 L247.6 253.41 L248.1 250.45 L248.6 247.51 L249.1 244.6 L249.6 241.73 L250.1 238.93 L250.6 236.2 L251.1 233.56 L251.6 231.01 L252.1 228.57 L252.6 226.26 L253.1 224.08 L253.6 222.05 L254.1 220.18 L254.6 218.47 L255.1 216.95 L255.6 215.6 L256.1 214.46 L256.6 213.51 L257.1 212.76 L257.6 212.23 L258.1 211.91 L258.6 211.8 L259.1 211.91 L259.6 212.23 L260.1 212.76 L260.6 213.51 L261.1 214.46 L261.6 215.6 L262.1 216.95 L262.6 218.47 L263.1 220.18 L263.6 222.05 L264.1 224.08 L264.6 226.26 L265.1 228.57 L265.6 231.01 L266.1 233.56 L266.6 236.2 L267.1 238.93 L267.6 241.73 L268.1 244.6 L268.6 247.51 L269.1 250.45 L269.6 253.41 L270.1 256.38 L270.6 259.36 L271.1 262.31 L271.6 265.25 L272.1 268.15 L272.6 271 L273.1 273.81 L273.6 276.56 L274.1 279.24 L274.6 281.85 L275.1 284.38 L275.6 286.82 L276.1 289.19 L276.6 291.46 L277.1 293.64 L277.6 295.72 L278.1 297.71 L278.6 299.61 L279.1 301.4 L279.6 303.11 L280.1 304.72 L280.6 306.23 L281.1 307.66 L281.6 308.99 L282.1 310.24 L282.6 311.41 L283.1 312.5 L283.6 313.5 L284.1 314.44 L284.6 315.3 L285.1 316.1 L285.6 316.83 L286.1 317.51 L286.6 318.12 L287.1 318.69 L287.6 319.2 L288.1 319.67 L288.6 320.1 L289.1 320.48 L289.6 320.83 L290.1 321.14 L290.6 321.42 L291.1 321.68 L291.6 321.91 L292.1 322.11 L292.6 322.29 L293.1 322.45 L293.6 322.6 L294.1 322.72 L294.6 322.84 L295.1 322.94 L295.6 323.02 L296.1 323.1 L296.6 323.17 L297.1 323.23 L297.6 323.28 L298.1 323.32 L298.6 323.36 L299.1 323.4 L299.6 323.43 L300.1 323.45 L300.6 323.47 L301.1 323.49 L301.6 323.51 L302.1 323.52 L302.6 323.53 L303.1 323.55 L303.6 323.55 L304.1 323.56 L304.6 323.57 L305.1 323.57 L305.6 323.58 L306.1 323.58 L306.6 323.58 L307.1 323.59 L307.6 323.59 L308.1 323.59 L308.6 323.59 L309.1 323.59 L309.6 323.59 L310.1 323.6 L310.6 323.6 L311.1 323.6 L311.6 323.6 L312.1 323.6 L312.6 323.6 L313.1 323.6 L313.6 323.6 L314.1 323.6 L314.6 323.6 L315.1 323.6 L315.6 323.6 L316.1 323.6 L316.6 323.6 L317.1 323.6 L317.6 323.6 L318.1 323.6 L318.6 323.6 L319.1 323.6 L319.6 323.6 L320.1 323.6 L320.6 323.6" stroke="#55a22a" stroke-width="1.3" fill="none" stroke-linejoin="round"/>
<path d="M136.1 323.6 L136.6 323.6 L137.1 323.6 L137.6 323.6 L138.1 323.6 L138.6 323.6 L139.1 323.6 L139.6 323.6 L140.1 323.6 L140.6 323.6 L141.1 323.6 L141.6 323.6 L142.1 323.6 L142.6 323.6 L143.1 323.6 L143.6 323.6 L144.1 323.6 L144.6 323.6 L145.1 323.6 L145.6 323.6 L146.1 323.6 L146.6 323.6 L147.1 323.6 L147.6 323.6 L148.1 323.6 L148.6 323.6 L149.1 323.6 L149.6 323.6 L150.1 323.6 L150.6 323.6 L151.1 323.6 L151.6 323.6 L152.1 323.6 L152.6 323.6 L153.1 323.6 L153.6 323.6 L154.1 323.6 L154.6 323.6 L155.1 323.6 L155.6 323.6 L156.1 323.6 L156.6 323.6 L157.1 323.6 L157.6 323.6 L158.1 323.6 L158.6 323.6 L159.1 323.6 L159.6 323.6 L160.1 323.6 L160.6 323.6 L161.1 323.6 L161.6 323.6 L162.1 323.6 L162.6 323.6 L163.1 323.6 L163.6 323.6 L164.1 323.6 L164.6 323.6 L165.1 323.6 L165.6 323.6 L166.1 323.6 L166.6 323.6 L167.1 323.6 L167.6 323.6 L168.1 323.6 L168.6 323.6 L169.1 323.6 L169.6 323.6 L170.1 323.6 L170.6 323.6 L171.1 323.6 L171.6 323.6 L172.1 323.6 L172.6 323.6 L173.1 323.6 L173.6 323.6 L174.1 323.6 L174.6 323.6 L175.1 323.6 L175.6 323.6 L176.1 323.6 L176.6 323.6 L177.1 323.6 L177.6 323.6 L178.1 323.6 L178.6 323.6 L179.1 323.59 L179.6 323.59 L180.1 323.59 L180.6 323.59 L181.1 323.59 L181.6 323.59 L182.1 323.59 L182.6 323.58 L183.1 323.58 L183.6 323.58 L184.1 323.57 L184.6 323.57 L185.1 323.57 L185.6 323.56 L186.1 323.56 L186.6 323.55 L187.1 323.54 L187.6 323.53 L188.1 323.52 L188.6 323.51 L189.1 323.5 L189.6 323.49 L190.1 323.47 L190.6 323.45 L191.1 323.43 L191.6 323.41 L192.1 323.39 L192.6 323.36 L193.1 323.33 L193.6 323.3 L194.1 323.26 L194.6 323.22 L195.1 323.17 L195.6 323.12 L196.1 323.06 L196.6 323 L197.1 322.93 L197.6 322.85 L198.1 322.77 L198.6 322.68 L199.1 322.58 L199.6 322.47 L200.1 322.35 L200.6 322.23 L201.1 322.09 L201.6 321.93 L202.1 321.77 L202.6 321.59 L203.1 321.4 L203.6 321.2 L204.1 320.97 L204.6 320.74 L205.1 320.48 L205.6 320.21 L206.1 319.92 L206.6 319.6 L207.1 319.27 L207.6 318.92 L208.1 318.55 L208.6 318.15 L209.1 317.74 L209.6 317.29 L210.1 316.83 L210.6 316.34 L211.1 315.83 L211.6 315.29 L212.1 314.73 L212.6 314.15 L213.1 313.54 L213.6 312.91 L214.1 312.25 L214.6 311.57 L215.1 310.87 L215.6 310.15 L216.1 309.41 L216.6 308.64 L217.1 307.86 L217.6 307.06 L218.1 306.25 L218.6 305.42 L219.1 304.58 L219.6 303.73 L220.1 302.87 L220.6 302 L221.1 301.13 L221.6 300.26 L222.1 299.39 L222.6 298.53 L223.1 297.67 L223.6 296.82 L224.1 295.98 L224.6 295.15 L225.1 294.35 L225.6 293.56 L226.1 292.8 L226.6 292.06 L227.1 291.35 L227.6 290.67 L228.1 290.03 L228.6 289.42 L229.1 288.85 L229.6 288.32 L230.1 287.84 L230.6 287.4 L231.1 287.01 L231.6 286.67 L232.1 286.37 L232.6 286.13 L233.1 285.94 L233.6 285.81 L234.1 285.73 L234.6 285.7 L235.1 285.73 L235.6 285.81 L236.1 285.94 L236.6 286.13 L237.1 286.37 L237.6 286.67 L238.1 287.01 L238.6 287.4 L239.1 287.84 L239.6 288.32 L240.1 288.85 L240.6 289.42 L241.1 290.03 L241.6 290.67 L242.1 291.35 L242.6 292.06 L243.1 292.8 L243.6 293.56 L244.1 294.35 L244.6 295.15 L245.1 295.98 L245.6 296.82 L246.1 297.67 L246.6 298.53 L247.1 299.39 L247.6 300.26 L248.1 301.13 L248.6 302 L249.1 302.87 L249.6 303.73 L250.1 304.58 L250.6 305.42 L251.1 306.25 L251.6 307.06 L252.1 307.86 L252.6 308.64 L253.1 309.41 L253.6 310.15 L254.1 310.87 L254.6 311.57 L255.1 312.25 L255.6 312.91 L256.1 313.54 L256.6 314.15 L257.1 314.73 L257.6 315.29 L258.1 315.83 L258.6 316.34 L259.1 316.83 L259.6 317.29 L260.1 317.74 L260.6 318.15 L261.1 318.55 L261.6 318.92 L262.1 319.27 L262.6 319.6 L263.1 319.92 L263.6 320.21 L264.1 320.48 L264.6 320.74 L265.1 320.97 L265.6 321.2 L266.1 321.4 L266.6 321.59 L267.1 321.77 L267.6 321.93 L268.1 322.09 L268.6 322.23 L269.1 322.35 L269.6 322.47 L270.1 322.58 L270.6 322.68 L271.1 322.77 L271.6 322.85 L272.1 322.93 L272.6 323 L273.1 323.06 L273.6 323.12 L274.1 323.17 L274.6 323.22 L275.1 323.26 L275.6 323.3 L276.1 323.33 L276.6 323.36 L277.1 323.39 L277.6 323.41 L278.1 323.43 L278.6 323.45 L279.1 323.47 L279.6 323.49 L280.1 323.5 L280.6 323.51 L281.1 323.52 L281.6 323.53 L282.1 323.54 L282.6 323.55 L283.1 323.56 L283.6 323.56 L284.1 323.57 L284.6 323.57 L285.1 323.57 L285.6 323.58 L286.1 323.58 L286.6 323.58 L287.1 323.59 L287.6 323.59 L288.1 323.59 L288.6 323.59 L289.1 323.59 L289.6 323.59 L290.1 323.59 L290.6 323.6 L291.1 323.6 L291.6 323.6 L292.1 323.6 L292.6 323.6 L293.1 323.6 L293.6 323.6 L294.1 323.6 L294.6 323.6 L295.1 323.6 L295.6 323.6 L296.1 323.6 L296.6 323.6 L297.1 323.6 L297.6 323.6 L298.1 323.6 L298.6 323.6 L299.1 323.6 L299.6 323.6 L300.1 323.6 L300.6 323.6 L301.1 323.6 L301.6 323.6 L302.1 323.6 L302.6 323.6 L303.1 323.6 L303.6 323.6 L304.1 323.6 L304.6 323.6 L305.1 323.6 L305.6 323.6 L306.1 323.6 L306.6 323.6 L307.1 323.6 L307.6 323.6 L308.1 323.6 L308.6 323.6 L309.1 323.6 L309.6 323.6 L310.1 323.6 L310.6 323.6 L311.1 323.6 L311.6 323.6 L312.1 323.6 L312.6 323.6 L313.1 323.6 L313.6 323.6 L314.1 323.6 L314.6 323.6 L315.1 323.6 L315.6 323.6 L316.1 323.6 L316.6 323.6 L317.1 323.6 L317.6 323.6 L318.1 323.6 L318.6 323.6 L319.1 323.6 L319.6 323.6 L320.1 323.6 L320.6 323.6" stroke="#7d1f2d" stroke-width="1.3" fill="none" stroke-linejoin="round"/>
<path d="M136.2 322.66 L137.2 322.46 L138.2 322.09 L139.2 322.88 L140.2 321.76 L141.2 322.26 L142.2 322.65 L143.2 321.57 L144.2 322.05 L145.2 322.02 L146.2 321.22 L147.2 321.52 L148.2 321.79 L149.2 321.37 L150.2 321.58 L151.2 320.77 L152.2 320.74 L153.2 320.46 L154.2 320.81 L155.2 321.18 L156.2 320.65 L157.2 320.72 L158.2 320.11 L159.2 320.39 L160.2 319.47 L161.2 319.55 L162.2 319.86 L163.2 319.79 L164.2 319.3 L165.2 318.78 L166.2 318.89 L167.2 318.71 L168.2 318.69 L169.2 319.22 L170.2 318.39 L171.2 319.13 L172.2 319.03 L173.2 317.97 L174.2 318.3 L175.2 318.38 L176.2 317.77 L177.2 318.21 L178.2 318.74 L179.2 317.75 L180.2 318.29 L181.2 317.69 L182.2 318.22 L183.2 318.58 L184.2 317.74 L185.2 317.52 L186.2 317.65 L187.2 318.24 L188.2 317.67 L189.2 317.81 L190.2 318.35 L191.2 318.9 L192.2 318.3 L193.2 318.26 L194.2 318.5 L195.2 317.78 L196.2 318.28 L197.2 317.69 L198.2 318.11 L199.2 318.36 L200.2 317.03 L201.2 317.34 L202.2 317.05 L203.2 316.05 L204.2 315.6 L205.2 315.8 L206.2 315.06 L207.2 313.25 L208.2 313.15 L209.2 312.59 L210.2 310.82 L211.2 310.29 L212.2 308.57 L213.2 307.86 L214.2 307.06 L215.2 305.73 L216.2 304.6 L217.2 302.23 L218.2 300.87 L219.2 299.74 L220.2 297.63 L221.2 295.74 L222.2 294.02 L223.2 293.06 L224.2 290.89 L225.2 288.55 L226.2 287.81 L227.2 285.57 L228.2 284.02 L229.2 282.1 L230.2 280.73 L231.2 278.93 L232.2 276.95 L233.2 275.85 L234.2 273.43 L235.2 272.51 L236.2 269.83 L237.2 268.83 L238.2 266.69 L239.2 263.77 L240.2 260.69 L241.2 256.24 L242.2 252.78 L243.2 248.39 L244.2 243.96 L245.2 240.53 L246.2 235.5 L247.2 231.13 L248.2 227.06 L249.2 221.73 L250.2 217.67 L251.2 213.41 L252.2 211.28 L253.2 208.02 L254.2 205.8 L255.2 205.53 L256.2 203.38 L257.2 203.61 L258.2 203.75 L259.2 204.18 L260.2 204.85 L261.2 207.01 L262.2 210.76 L263.2 214.96 L264.2 219.5 L265.2 224.81 L266.2 229.82 L267.2 237.29 L268.2 248.41 L269.2 255.81 L270.2 260.73 L271.2 266.23 L272.2 271.66 L273.2 276.71 L274.2 283.66 L275.2 290.84 L276.2 296.29 L277.2 299.44 L278.2 303.25 L279.2 305.21 L280.2 308.3 L281.2 310.44 L282.2 312.27 L283.2 313.15 L284.2 313.71 L285.2 314.51 L286.2 315.81 L287.2 316.01 L288.2 317.11 L289.2 316.96 L290.2 318.27 L291.2 318.06 L292.2 318.25 L293.2 318.85 L294.2 319.56 L295.2 320.03 L296.2 320.13 L297.2 320.14 L298.2 320.74 L299.2 321.5 L300.2 321.19 L301.2 321.84 L302.2 320.89 L303.2 322.18 L304.2 322.19 L305.2 321.92 L306.2 322.03 L307.2 322.19 L308.2 322.76 L309.2 321.86 L310.2 322.66 L311.2 322.61 L312.2 322.37 L313.2 322.91 L314.2 322.93 L315.2 322.22 L316.2 322.95 L317.2 322.68 L318.2 322.74 L319.2 322.93 L320.2 322.25" stroke="#24509c" stroke-width="1.5" fill="none" stroke-linejoin="round"/>
<path d="M136.1 323.51 L136.6 323.5 L137.1 323.5 L137.6 323.49 L138.1 323.48 L138.6 323.47 L139.1 323.46 L139.6 323.45 L140.1 323.43 L140.6 323.42 L141.1 323.41 L141.6 323.39 L142.1 323.38 L142.6 323.36 L143.1 323.34 L143.6 323.32 L144.1 323.3 L144.6 323.28 L145.1 323.26 L145.6 323.23 L146.1 323.21 L146.6 323.18 L147.1 323.15 L147.6 323.12 L148.1 323.09 L148.6 323.06 L149.1 323.03 L149.6 322.99 L150.1 322.95 L150.6 322.91 L151.1 322.87 L151.6 322.83 L152.1 322.79 L152.6 322.74 L153.1 322.69 L153.6 322.64 L154.1 322.59 L154.6 322.53 L155.1 322.48 L155.6 322.42 L156.1 322.36 L156.6 322.3 L157.1 322.24 L157.6 322.17 L158.1 322.11 L158.6 322.04 L159.1 321.97 L159.6 321.89 L160.1 321.82 L160.6 321.75 L161.1 321.67 L161.6 321.59 L162.1 321.51 L162.6 321.43 L163.1 321.35 L163.6 321.27 L164.1 321.18 L164.6 321.1 L165.1 321.01 L165.6 320.92 L166.1 320.84 L166.6 320.75 L167.1 320.66 L167.6 320.58 L168.1 320.49 L168.6 320.4 L169.1 320.31 L169.6 320.23 L170.1 320.14 L170.6 320.06 L171.1 319.98 L171.6 319.89 L172.1 319.81 L172.6 319.73 L173.1 319.66 L173.6 319.58 L174.1 319.51 L174.6 319.44 L175.1 319.37 L175.6 319.3 L176.1 319.24 L176.6 319.18 L177.1 319.12 L177.6 319.07 L178.1 319.02 L178.6 318.97 L179.1 318.92 L179.6 318.88 L180.1 318.85 L180.6 318.81 L181.1 318.79 L181.6 318.76 L182.1 318.74 L182.6 318.72 L183.1 318.71 L183.6 318.7 L184.1 318.7 L184.6 318.7 L185.1 318.71 L185.6 318.71 L186.1 318.73 L186.6 318.74 L187.1 318.77 L187.6 318.79 L188.1 318.82 L188.6 318.85 L189.1 318.89 L189.6 318.93 L190.1 318.98 L190.6 319.03 L191.1 319.08 L191.6 319.13 L192.1 319.19 L192.6 319.25 L193.1 319.31 L193.6 319.38 L194.1 319.45 L194.6 319.52 L195.1 319.6 L195.6 319.67 L196.1 319.75 L196.6 319.83 L197.1 319.91 L197.6 319.99 L198.1 320.08 L198.6 320.16 L199.1 320.25 L199.6 320.33 L200.1 320.42 L200.6 320.51 L201.1 320.59 L201.6 320.68 L202.1 320.77 L202.6 320.85 L203.1 320.94 L203.6 321.03 L204.1 321.11 L204.6 321.2 L205.1 321.28 L205.6 321.36 L206.1 321.45 L206.6 321.53 L207.1 321.61 L207.6 321.68 L208.1 321.76 L208.6 321.84 L209.1 321.91 L209.6 321.98 L210.1 322.05 L210.6 322.12 L211.1 322.19 L211.6 322.25 L212.1 322.31 L212.6 322.37 L213.1 322.43 L213.6 322.49 L214.1 322.55 L214.6 322.6 L215.1 322.65 L215.6 322.7 L216.1 322.75 L216.6 322.79 L217.1 322.84 L217.6 322.88 L218.1 322.92 L218.6 322.96 L219.1 323 L219.6 323.03 L220.1 323.07 L220.6 323.1 L221.1 323.13 L221.6 323.16 L222.1 323.19 L222.6 323.21 L223.1 323.24 L223.6 323.26 L224.1 323.28 L224.6 323.3 L225.1 323.32 L225.6 323.34 L226.1 323.36 L226.6 323.38 L227.1 323.39 L227.6 323.41 L228.1 323.42 L228.6 323.44 L229.1 323.45 L229.6 323.46 L230.1 323.47 L230.6 323.48 L231.1 323.49 L231.6 323.5 L232.1 323.51 L232.6 323.51 L233.1 323.52 L233.6 323.53 L234.1 323.53 L234.6 323.54 L235.1 323.54 L235.6 323.55 L236.1 323.55 L236.6 323.56 L237.1 323.56 L237.6 323.56 L238.1 323.57 L238.6 323.57 L239.1 323.57 L239.6 323.58 L240.1 323.58 L240.6 323.58 L241.1 323.58 L241.6 323.58 L242.1 323.58 L242.6 323.59 L243.1 323.59 L243.6 323.59 L244.1 323.59 L244.6 323.59 L245.1 323.59 L245.6 323.59 L246.1 323.59 L246.6 323.59 L247.1 323.59 L247.6 323.6 L248.1 323.6 L248.6 323.6 L249.1 323.6 L249.6 323.6 L250.1 323.6 L250.6 323.6 L251.1 323.6 L251.6 323.6 L252.1 323.6 L252.6 323.6 L253.1 323.6 L253.6 323.6 L254.1 323.6 L254.6 323.6 L255.1 323.6 L255.6 323.6 L256.1 323.6 L256.6 323.6 L257.1 323.6 L257.6 323.6 L258.1 323.6 L258.6 323.6 L259.1 323.6 L259.6 323.6 L260.1 323.6 L260.6 323.6 L261.1 323.6 L261.6 323.6 L262.1 323.6 L262.6 323.6 L263.1 323.6 L263.6 323.6 L264.1 323.6 L264.6 323.6 L265.1 323.6 L265.6 323.6 L266.1 323.6 L266.6 323.6 L267.1 323.6 L267.6 323.6 L268.1 323.6 L268.6 323.6 L269.1 323.6 L269.6 323.6 L270.1 323.6 L270.6 323.6 L271.1 323.6 L271.6 323.6 L272.1 323.6 L272.6 323.6 L273.1 323.6 L273.6 323.6 L274.1 323.6 L274.6 323.6 L275.1 323.6 L275.6 323.6 L276.1 323.6 L276.6 323.6 L277.1 323.6 L277.6 323.6 L278.1 323.6 L278.6 323.6 L279.1 323.6 L279.6 323.6 L280.1 323.6 L280.6 323.6 L281.1 323.6 L281.6 323.6 L282.1 323.6 L282.6 323.6 L283.1 323.6 L283.6 323.6 L284.1 323.6 L284.6 323.6 L285.1 323.6 L285.6 323.6 L286.1 323.6 L286.6 323.6 L287.1 323.6 L287.6 323.6 L288.1 323.6 L288.6 323.6 L289.1 323.6 L289.6 323.6 L290.1 323.6 L290.6 323.6 L291.1 323.6 L291.6 323.6 L292.1 323.6 L292.6 323.6 L293.1 323.6 L293.6 323.6 L294.1 323.6 L294.6 323.6 L295.1 323.6 L295.6 323.6 L296.1 323.6 L296.6 323.6 L297.1 323.6 L297.6 323.6 L298.1 323.6 L298.6 323.6 L299.1 323.6 L299.6 323.6 L300.1 323.6 L300.6 323.6 L301.1 323.6 L301.6 323.6 L302.1 323.6 L302.6 323.6 L303.1 323.6 L303.6 323.6 L304.1 323.6 L304.6 323.6 L305.1 323.6 L305.6 323.6 L306.1 323.6 L306.6 323.6 L307.1 323.6 L307.6 323.6 L308.1 323.6 L308.6 323.6 L309.1 323.6 L309.6 323.6 L310.1 323.6 L310.6 323.6 L311.1 323.6 L311.6 323.6 L312.1 323.6 L312.6 323.6 L313.1 323.6 L313.6 323.6 L314.1 323.6 L314.6 323.6 L315.1 323.6 L315.6 323.6 L316.1 323.6 L316.6 323.6 L317.1 323.6 L317.6 323.6 L318.1 323.6 L318.6 323.6 L319.1 323.6 L319.6 323.6 L320.1 323.6 L320.6 323.6" stroke="#7cc4f5" stroke-width="1.3" fill="none" stroke-linejoin="round"/>
<path d="M136.2 323.3 L136.7 323.25 L137.2 323.21 L137.7 323.17 L138.2 323.12 L138.7 323.08 L139.2 323.04 L139.7 322.99 L140.2 322.95 L140.7 322.9 L141.2 322.86 L141.7 322.82 L142.2 322.77 L142.7 322.72 L143.2 322.68 L143.7 322.63 L144.2 322.58 L144.7 322.53 L145.2 322.48 L145.7 322.43 L146.2 322.37 L146.7 322.32 L147.2 322.26 L147.7 322.21 L148.2 322.15 L148.7 322.09 L149.2 322.03 L149.7 321.97 L150.2 321.91 L150.7 321.85 L151.2 321.78 L151.7 321.72 L152.2 321.66 L152.7 321.6 L153.2 321.53 L153.7 321.47 L154.2 321.4 L154.7 321.34 L155.2 321.27 L155.7 321.21 L156.2 321.14 L156.7 321.07 L157.2 320.99 L157.7 320.92 L158.2 320.85 L158.7 320.77 L159.2 320.7 L159.7 320.62 L160.2 320.55 L160.7 320.47 L161.2 320.4 L161.7 320.32 L162.2 320.25 L162.7 320.18 L163.2 320.12 L163.7 320.05 L164.2 319.99 L164.7 319.93 L165.2 319.88 L165.7 319.82 L166.2 319.77 L166.7 319.71 L167.2 319.66 L167.7 319.61 L168.2 319.55 L168.7 319.5 L169.2 319.45 L169.7 319.4 L170.2 319.35 L170.7 319.31 L171.2 319.26 L171.7 319.22 L172.2 319.18 L172.7 319.14 L173.2 319.11 L173.7 319.07 L174.2 319.04 L174.7 319.01 L175.2 318.99 L175.7 318.97 L176.2 318.94 L176.7 318.92 L177.2 318.9 L177.7 318.87 L178.2 318.85 L178.7 318.83 L179.2 318.81 L179.7 318.79 L180.2 318.78 L180.7 318.76 L181.2 318.75 L181.7 318.73 L182.2 318.72 L182.7 318.71 L183.2 318.71 L183.7 318.7 L184.2 318.7 L184.7 318.7 L185.2 318.71 L185.7 318.73 L186.2 318.75 L186.7 318.77 L187.2 318.8 L187.7 318.82 L188.2 318.85 L188.7 318.88 L189.2 318.91 L189.7 318.94 L190.2 318.96 L190.7 318.98 L191.2 318.99 L191.7 319 L192.2 319 L192.7 318.99 L193.2 318.98 L193.7 318.96 L194.2 318.93 L194.7 318.9 L195.2 318.87 L195.7 318.83 L196.2 318.78 L196.7 318.74 L197.2 318.69 L197.7 318.63 L198.2 318.58 L198.7 318.5 L199.2 318.41 L199.7 318.3 L200.2 318.17 L200.7 318.03 L201.2 317.87 L201.7 317.7 L202.2 317.53 L202.7 317.31 L203.2 317.07 L203.7 316.79 L204.2 316.48 L204.7 316.15 L205.2 315.8 L205.7 315.44 L206.2 315.07 L206.7 314.68 L207.2 314.3 L207.7 313.91 L208.2 313.5 L208.7 313.08 L209.2 312.65 L209.7 312.2 L210.2 311.73 L210.7 311.25 L211.2 310.76 L211.7 310.24 L212.2 309.72 L212.7 309.18 L213.2 308.62 L213.7 308.04 L214.2 307.45 L214.7 306.85 L215.2 306.23 L215.7 305.57 L216.2 304.87 L216.7 304.12 L217.2 303.33 L217.7 302.5 L218.2 301.65 L218.7 300.78 L219.2 299.9 L219.7 299.01 L220.2 298.13 L220.7 297.26 L221.2 296.4 L221.7 295.57 L222.2 294.74 L222.7 293.91 L223.2 293.07 L223.7 292.24 L224.2 291.4 L224.7 290.57 L225.2 289.73 L225.7 288.89 L226.2 288.05 L226.7 287.21 L227.2 286.37 L227.7 285.53 L228.2 284.7 L228.7 283.87 L229.2 283.05 L229.7 282.22 L230.2 281.4 L230.7 280.57 L231.2 279.74 L231.7 278.9 L232.2 278.05 L232.7 277.18 L233.2 276.3 L233.7 275.4 L234.2 274.51 L234.7 273.63 L235.2 272.77 L235.7 271.89 L236.2 271 L236.7 270.07 L237.2 269.09 L237.7 268.05 L238.2 266.93 L238.7 265.71 L239.2 264.37 L239.7 262.8 L240.2 261.04 L240.7 259.13 L241.2 257.14 L241.7 255.11 L242.2 253.09 L242.7 251.11 L243.2 249.08 L243.7 247 L244.2 244.88 L244.7 242.74 L245.2 240.57 L245.7 238.4 L246.2 236.22 L246.7 234.06 L247.2 231.89 L247.7 229.6 L248.2 227.23 L248.7 224.84 L249.2 222.49 L249.7 220.21 L250.2 218.07 L250.7 216.12 L251.2 214.41 L251.7 212.91 L252.2 211.47 L252.7 210.13 L253.2 208.91 L253.7 207.84 L254.2 206.94 L254.7 206.23 L255.2 205.56 L255.7 204.93 L256.2 204.38 L256.7 203.94 L257.2 203.67 L257.7 203.6 L258.2 203.77 L258.7 204.13 L259.2 204.65 L259.7 205.3 L260.2 206.04 L260.7 206.86 L261.2 208.13 L261.7 209.8 L262.2 211.71 L262.7 213.71 L263.2 215.69 L263.7 217.77 L264.2 219.96 L264.7 222.31 L265.2 224.85 L265.7 227.6 L266.2 230.6 L266.7 233.91 L267.2 238.32 L267.7 243.6 L268.2 248.94 L268.7 253.54 L269.2 256.85 L269.7 259.48 L270.2 261.83 L270.7 264.19 L271.2 266.76 L271.7 269.37 L272.2 272.03 L272.7 274.82 L273.2 277.83 L273.7 281.05 L274.2 284.31 L274.7 287.57 L275.2 290.96 L275.7 294.15 L276.2 296.8 L276.7 299.2 L277.2 301.41 L277.7 303.39 L278.2 305.11 L278.7 306.54 L279.2 307.81 L279.7 308.98 L280.2 310.04 L280.7 311.03 L281.2 311.94 L281.7 312.79 L282.2 313.59 L282.7 314.35 L283.2 315.11 L283.7 315.85 L284.2 316.58 L284.7 317.27 L285.2 317.93 L285.7 318.54 L286.2 319.09 L286.7 319.57 L287.2 319.98 L287.7 320.3 L288.2 320.57 L288.7 320.82 L289.2 321.06 L289.7 321.3 L290.2 321.51 L290.7 321.72 L291.2 321.91 L291.7 322.09 L292.2 322.25 L292.7 322.4 L293.2 322.54 L293.7 322.66 L294.2 322.77 L294.7 322.86 L295.2 322.93 L295.7 322.99 L296.2 323.04 L296.7 323.08 L297.2 323.12 L297.7 323.16 L298.2 323.2 L298.7 323.24 L299.2 323.27 L299.7 323.3 L300.2 323.33 L300.7 323.36 L301.2 323.39 L301.7 323.41 L302.2 323.43 L302.7 323.45 L303.2 323.46 L303.7 323.48 L304.2 323.49 L304.7 323.5 L305.2 323.5 L305.7 323.51 L306.2 323.51 L306.7 323.52 L307.2 323.52 L307.7 323.53 L308.2 323.53 L308.7 323.54 L309.2 323.54 L309.7 323.54 L310.2 323.55 L310.7 323.55 L311.2 323.55 L311.7 323.56 L312.2 323.56 L312.7 323.56 L313.2 323.56 L313.7 323.57 L314.2 323.57 L314.7 323.57 L315.2 323.57 L315.7 323.57 L316.2 323.58 L316.7 323.58 L317.2 323.58 L317.7 323.58 L318.2 323.59 L318.7 323.59 L319.2 323.59 L319.7 323.59 L320.2 323.6" stroke="#ff4a1c" stroke-width="1.5" fill="none" stroke-linejoin="round" stroke-dasharray="6.5 3.5"/>
<text x="140.9" y="210.9" font-size="12.2" font-weight="bold" fill="#111">(d)</text>
<text x="174.0" y="214.1" font-size="12.5" font-weight="bold" fill="#111">N</text><text x="183.3" y="216.2" font-size="8.2" font-weight="bold" fill="#111">1s</text>
<path d="M363.3 314.1 L363.8 314.1 L364.3 314.1 L364.8 314.1 L365.3 314.1 L365.8 314.1 L366.3 314.1 L366.8 314.1 L367.3 314.1 L367.8 314.1 L368.3 314.1 L368.8 314.1 L369.3 314.1 L369.8 314.1 L370.3 314.1 L370.8 314.1 L371.3 314.1 L371.8 314.1 L372.3 314.1 L372.8 314.1 L373.3 314.1 L373.8 314.1 L374.3 314.1 L374.8 314.1 L375.3 314.1 L375.8 314.1 L376.3 314.1 L376.8 314.1 L377.3 314.1 L377.8 314.1 L378.3 314.1 L378.8 314.1 L379.3 314.1 L379.8 314.1 L380.3 314.1 L380.8 314.1 L381.3 314.1 L381.8 314.1 L382.3 314.1 L382.8 314.1 L383.3 314.1 L383.8 314.1 L384.3 314.1 L384.8 314.1 L385.3 314.1 L385.8 314.09 L386.3 314.09 L386.8 314.09 L387.3 314.09 L387.8 314.09 L388.3 314.09 L388.8 314.09 L389.3 314.09 L389.8 314.09 L390.3 314.08 L390.8 314.08 L391.3 314.08 L391.8 314.08 L392.3 314.07 L392.8 314.07 L393.3 314.07 L393.8 314.06 L394.3 314.06 L394.8 314.05 L395.3 314.04 L395.8 314.04 L396.3 314.03 L396.8 314.02 L397.3 314.01 L397.8 314 L398.3 313.99 L398.8 313.98 L399.3 313.96 L399.8 313.95 L400.3 313.93 L400.8 313.91 L401.3 313.89 L401.8 313.87 L402.3 313.85 L402.8 313.82 L403.3 313.79 L403.8 313.76 L404.3 313.73 L404.8 313.69 L405.3 313.65 L405.8 313.6 L406.3 313.55 L406.8 313.5 L407.3 313.44 L407.8 313.38 L408.3 313.32 L408.8 313.24 L409.3 313.17 L409.8 313.08 L410.3 312.99 L410.8 312.9 L411.3 312.79 L411.8 312.68 L412.3 312.56 L412.8 312.43 L413.3 312.3 L413.8 312.15 L414.3 312 L414.8 311.83 L415.3 311.66 L415.8 311.47 L416.3 311.28 L416.8 311.07 L417.3 310.84 L417.8 310.61 L418.3 310.36 L418.8 310.1 L419.3 309.83 L419.8 309.54 L420.3 309.24 L420.8 308.92 L421.3 308.59 L421.8 308.24 L422.3 307.88 L422.8 307.5 L423.3 307.11 L423.8 306.7 L424.3 306.27 L424.8 305.83 L425.3 305.37 L425.8 304.9 L426.3 304.41 L426.8 303.9 L427.3 303.38 L427.8 302.85 L428.3 302.3 L428.8 301.73 L429.3 301.15 L429.8 300.56 L430.3 299.96 L430.8 299.34 L431.3 298.71 L431.8 298.08 L432.3 297.43 L432.8 296.77 L433.3 296.11 L433.8 295.44 L434.3 294.77 L434.8 294.09 L435.3 293.42 L435.8 292.74 L436.3 292.06 L436.8 291.38 L437.3 290.7 L437.8 290.03 L438.3 289.37 L438.8 288.71 L439.3 288.06 L439.8 287.43 L440.3 286.8 L440.8 286.19 L441.3 285.6 L441.8 285.02 L442.3 284.47 L442.8 283.93 L443.3 283.41 L443.8 282.92 L444.3 282.45 L444.8 282.01 L445.3 281.6 L445.8 281.21 L446.3 280.85 L446.8 280.53 L447.3 280.23 L447.8 279.97 L448.3 279.74 L448.8 279.55 L449.3 279.39 L449.8 279.26 L450.3 279.17 L450.8 279.12 L451.3 279.1 L451.8 279.12 L452.3 279.17 L452.8 279.26 L453.3 279.39 L453.8 279.55 L454.3 279.74 L454.8 279.97 L455.3 280.23 L455.8 280.53 L456.3 280.85 L456.8 281.21 L457.3 281.6 L457.8 282.01 L458.3 282.45 L458.8 282.92 L459.3 283.41 L459.8 283.93 L460.3 284.47 L460.8 285.02 L461.3 285.6 L461.8 286.19 L462.3 286.8 L462.8 287.43 L463.3 288.06 L463.8 288.71 L464.3 289.37 L464.8 290.03 L465.3 290.7 L465.8 291.38 L466.3 292.06 L466.8 292.74 L467.3 293.42 L467.8 294.09 L468.3 294.77 L468.8 295.44 L469.3 296.11 L469.8 296.77 L470.3 297.43 L470.8 298.08 L471.3 298.71 L471.8 299.34 L472.3 299.96 L472.8 300.56 L473.3 301.15 L473.8 301.73 L474.3 302.3 L474.8 302.85 L475.3 303.38 L475.8 303.9 L476.3 304.41 L476.8 304.9 L477.3 305.37 L477.8 305.83 L478.3 306.27 L478.8 306.7 L479.3 307.11 L479.8 307.5 L480.3 307.88 L480.8 308.24 L481.3 308.59 L481.8 308.92 L482.3 309.24 L482.8 309.54 L483.3 309.83 L483.8 310.1 L484.3 310.36 L484.8 310.61 L485.3 310.84 L485.8 311.07 L486.3 311.28 L486.8 311.47 L487.3 311.66 L487.8 311.83 L488.3 312 L488.8 312.15 L489.3 312.3 L489.8 312.43 L490.3 312.56 L490.8 312.68 L491.3 312.79 L491.8 312.9 L492.3 312.99 L492.8 313.08 L493.3 313.17 L493.8 313.24 L494.3 313.32 L494.8 313.38 L495.3 313.44 L495.8 313.5 L496.3 313.55 L496.8 313.6 L497.3 313.65 L497.8 313.69 L498.3 313.73 L498.8 313.76 L499.3 313.79 L499.8 313.82 L500.3 313.85 L500.8 313.87 L501.3 313.89 L501.8 313.91 L502.3 313.93 L502.8 313.95 L503.3 313.96 L503.8 313.98 L504.3 313.99 L504.8 314 L505.3 314.01 L505.8 314.02 L506.3 314.03 L506.8 314.04 L507.3 314.04 L507.8 314.05 L508.3 314.06 L508.8 314.06 L509.3 314.07 L509.8 314.07 L510.3 314.07 L510.8 314.08 L511.3 314.08 L511.8 314.08 L512.3 314.08 L512.8 314.09 L513.3 314.09 L513.8 314.09 L514.3 314.09 L514.8 314.09 L515.3 314.09 L515.8 314.09 L516.3 314.09 L516.8 314.09 L517.3 314.1 L517.8 314.1 L518.3 314.1 L518.8 314.1 L519.3 314.1 L519.8 314.1 L520.3 314.1 L520.8 314.1 L521.3 314.1 L521.8 314.1 L522.3 314.1 L522.8 314.1 L523.3 314.1 L523.8 314.1 L524.3 314.1 L524.8 314.1 L525.3 314.1 L525.8 314.1 L526.3 314.1 L526.8 314.1 L527.3 314.1 L527.8 314.1 L528.3 314.1 L528.8 314.1 L529.3 314.1 L529.8 314.1 L530.3 314.1 L530.8 314.1 L531.3 314.1 L531.8 314.1 L532.3 314.1 L532.8 314.1 L533.3 314.1 L533.8 314.1 L534.3 314.1 L534.8 314.1 L535.3 314.1 L535.8 314.1 L536.3 314.1 L536.8 314.1 L537.3 314.1 L537.8 314.1 L538.3 314.1 L538.8 314.1 L539.3 314.1 L539.8 314.1 L540.3 314.1 L540.8 314.1 L541.3 314.1 L541.8 314.1 L542.3 314.1 L542.8 314.1 L543.3 314.1 L543.8 314.1 L544.3 314.1 L544.8 314.1 L545.3 314.1 L545.8 314.1 L546.3 314.1 L546.8 314.1 L547.3 314.1" stroke="#7d1f2d" stroke-width="1.3" fill="none" stroke-linejoin="round"/>
<path d="M363.3 314.1 L363.8 314.1 L364.3 314.1 L364.8 314.1 L365.3 314.1 L365.8 314.1 L366.3 314.1 L366.8 314.1 L367.3 314.1 L367.8 314.1 L368.3 314.1 L368.8 314.1 L369.3 314.1 L369.8 314.1 L370.3 314.1 L370.8 314.1 L371.3 314.1 L371.8 314.1 L372.3 314.1 L372.8 314.1 L373.3 314.1 L373.8 314.1 L374.3 314.1 L374.8 314.1 L375.3 314.1 L375.8 314.1 L376.3 314.1 L376.8 314.1 L377.3 314.1 L377.8 314.1 L378.3 314.1 L378.8 314.1 L379.3 314.1 L379.8 314.1 L380.3 314.1 L380.8 314.1 L381.3 314.1 L381.8 314.1 L382.3 314.1 L382.8 314.1 L383.3 314.1 L383.8 314.1 L384.3 314.1 L384.8 314.1 L385.3 314.1 L385.8 314.1 L386.3 314.1 L386.8 314.1 L387.3 314.1 L387.8 314.1 L388.3 314.1 L388.8 314.1 L389.3 314.1 L389.8 314.1 L390.3 314.1 L390.8 314.1 L391.3 314.1 L391.8 314.1 L392.3 314.1 L392.8 314.1 L393.3 314.1 L393.8 314.1 L394.3 314.1 L394.8 314.1 L395.3 314.1 L395.8 314.1 L396.3 314.1 L396.8 314.1 L397.3 314.1 L397.8 314.1 L398.3 314.1 L398.8 314.1 L399.3 314.1 L399.8 314.1 L400.3 314.1 L400.8 314.1 L401.3 314.1 L401.8 314.1 L402.3 314.1 L402.8 314.1 L403.3 314.09 L403.8 314.09 L404.3 314.09 L404.8 314.09 L405.3 314.09 L405.8 314.09 L406.3 314.09 L406.8 314.09 L407.3 314.08 L407.8 314.08 L408.3 314.08 L408.8 314.07 L409.3 314.07 L409.8 314.07 L410.3 314.06 L410.8 314.06 L411.3 314.05 L411.8 314.05 L412.3 314.04 L412.8 314.03 L413.3 314.02 L413.8 314.01 L414.3 314 L414.8 313.99 L415.3 313.97 L415.8 313.96 L416.3 313.94 L416.8 313.92 L417.3 313.9 L417.8 313.88 L418.3 313.85 L418.8 313.82 L419.3 313.79 L419.8 313.75 L420.3 313.71 L420.8 313.67 L421.3 313.62 L421.8 313.57 L422.3 313.52 L422.8 313.45 L423.3 313.39 L423.8 313.31 L424.3 313.23 L424.8 313.14 L425.3 313.04 L425.8 312.94 L426.3 312.83 L426.8 312.7 L427.3 312.57 L427.8 312.42 L428.3 312.27 L428.8 312.1 L429.3 311.91 L429.8 311.72 L430.3 311.51 L430.8 311.28 L431.3 311.03 L431.8 310.77 L432.3 310.49 L432.8 310.19 L433.3 309.87 L433.8 309.53 L434.3 309.17 L434.8 308.78 L435.3 308.37 L435.8 307.93 L436.3 307.47 L436.8 306.98 L437.3 306.47 L437.8 305.92 L438.3 305.34 L438.8 304.74 L439.3 304.1 L439.8 303.43 L440.3 302.73 L440.8 301.99 L441.3 301.22 L441.8 300.42 L442.3 299.58 L442.8 298.7 L443.3 297.8 L443.8 296.85 L444.3 295.87 L444.8 294.86 L445.3 293.81 L445.8 292.73 L446.3 291.61 L446.8 290.46 L447.3 289.28 L447.8 288.06 L448.3 286.82 L448.8 285.55 L449.3 284.25 L449.8 282.92 L450.3 281.57 L450.8 280.2 L451.3 278.8 L451.8 277.39 L452.3 275.97 L452.8 274.53 L453.3 273.08 L453.8 271.62 L454.3 270.16 L454.8 268.69 L455.3 267.23 L455.8 265.77 L456.3 264.32 L456.8 262.88 L457.3 261.45 L457.8 260.05 L458.3 258.66 L458.8 257.3 L459.3 255.97 L459.8 254.67 L460.3 253.4 L460.8 252.18 L461.3 251 L461.8 249.86 L462.3 248.78 L462.8 247.74 L463.3 246.77 L463.8 245.85 L464.3 244.99 L464.8 244.19 L465.3 243.47 L465.8 242.81 L466.3 242.22 L466.8 241.7 L467.3 241.26 L467.8 240.89 L468.3 240.6 L468.8 240.39 L469.3 240.26 L469.8 240.2 L470.3 240.23 L470.8 240.33 L471.3 240.51 L471.8 240.77 L472.3 241.1 L472.8 241.52 L473.3 242 L473.8 242.56 L474.3 243.19 L474.8 243.89 L475.3 244.66 L475.8 245.5 L476.3 246.39 L476.8 247.35 L477.3 248.36 L477.8 249.42 L478.3 250.54 L478.8 251.7 L479.3 252.91 L479.8 254.16 L480.3 255.44 L480.8 256.76 L481.3 258.11 L481.8 259.49 L482.3 260.89 L482.8 262.31 L483.3 263.74 L483.8 265.19 L484.3 266.64 L484.8 268.11 L485.3 269.57 L485.8 271.03 L486.3 272.49 L486.8 273.95 L487.3 275.39 L487.8 276.82 L488.3 278.24 L488.8 279.64 L489.3 281.02 L489.8 282.38 L490.3 283.72 L490.8 285.03 L491.3 286.31 L491.8 287.57 L492.3 288.8 L492.8 289.99 L493.3 291.15 L493.8 292.28 L494.3 293.38 L494.8 294.44 L495.3 295.47 L495.8 296.46 L496.3 297.42 L496.8 298.35 L497.3 299.23 L497.8 300.09 L498.3 300.9 L498.8 301.69 L499.3 302.44 L499.8 303.15 L500.3 303.83 L500.8 304.49 L501.3 305.1 L501.8 305.69 L502.3 306.25 L502.8 306.78 L503.3 307.28 L503.8 307.75 L504.3 308.2 L504.8 308.62 L505.3 309.02 L505.8 309.39 L506.3 309.74 L506.8 310.07 L507.3 310.38 L507.8 310.66 L508.3 310.93 L508.8 311.18 L509.3 311.42 L509.8 311.63 L510.3 311.84 L510.8 312.03 L511.3 312.2 L511.8 312.36 L512.3 312.51 L512.8 312.65 L513.3 312.78 L513.8 312.9 L514.3 313 L514.8 313.1 L515.3 313.19 L515.8 313.28 L516.3 313.36 L516.8 313.43 L517.3 313.49 L517.8 313.55 L518.3 313.6 L518.8 313.65 L519.3 313.7 L519.8 313.74 L520.3 313.77 L520.8 313.81 L521.3 313.84 L521.8 313.87 L522.3 313.89 L522.8 313.91 L523.3 313.93 L523.8 313.95 L524.3 313.97 L524.8 313.98 L525.3 313.99 L525.8 314.01 L526.3 314.02 L526.8 314.03 L527.3 314.04 L527.8 314.04 L528.3 314.05 L528.8 314.06 L529.3 314.06 L529.8 314.07 L530.3 314.07 L530.8 314.07 L531.3 314.08 L531.8 314.08 L532.3 314.08 L532.8 314.08 L533.3 314.09 L533.8 314.09 L534.3 314.09 L534.8 314.09 L535.3 314.09 L535.8 314.09 L536.3 314.09 L536.8 314.09 L537.3 314.1 L537.8 314.1 L538.3 314.1 L538.8 314.1 L539.3 314.1 L539.8 314.1 L540.3 314.1 L540.8 314.1 L541.3 314.1 L541.8 314.1 L542.3 314.1 L542.8 314.1 L543.3 314.1 L543.8 314.1 L544.3 314.1 L544.8 314.1 L545.3 314.1 L545.8 314.1 L546.3 314.1 L546.8 314.1 L547.3 314.1" stroke="#55a22a" stroke-width="1.3" fill="none" stroke-linejoin="round"/>
<path d="M363.3 313.58 L364.9 313.81 L366.5 314.72 L368.1 313.5 L369.7 313.57 L371.3 313.75 L372.9 312.66 L374.5 313.48 L376.1 313.74 L377.7 314.11 L379.3 312.24 L380.9 312.71 L382.5 312.07 L384.6 312.4 L385.7 313.64 L387.3 313.13 L389.5 315 L390.5 310.93 L392.1 313.01 L393.7 312.52 L395.3 311.22 L396.9 308.8 L398.5 310.01 L400.2 311.7 L401.7 307.41 L403.3 306.25 L404.9 306.78 L406.5 304.76 L408.1 304.28 L409.7 303.58 L411.3 302.17 L412.9 302.4 L414.5 301.41 L416.1 301.5 L417.4 298.2 L419.3 298.64 L421.5 299.3 L422.5 296.61 L424.1 294.89 L425.7 293.85 L427.3 291.71 L428.9 289.51 L430.5 289.49 L432.1 287.37 L433.7 284.56 L435.3 281.6 L437 279.3 L438.5 274.85 L440.1 271.4 L441.7 268.18 L443.3 264.17 L444.9 262.44 L446.5 257.81 L448.1 255.14 L449.7 249.82 L451.3 246.88 L452.9 242.18 L454.5 235.93 L456.1 232.66 L457.7 231.05 L459.3 226.77 L460.9 225.4 L462.5 222.43 L464.1 220.62 L465.7 221.75 L467.3 222.81 L468.9 222.88 L470.5 224.03 L472.1 226.65 L473.7 231 L475.3 234.66 L476.9 238.76 L478.5 244.83 L480.1 250.44 L481.7 256.4 L483.3 264.53 L484.9 268.59 L486.5 274.55 L488.1 279.06 L489.7 283.54 L491.3 289.6 L492.9 291.67 L494.5 296.15 L496.1 297.63 L497.7 301.15 L499.3 303.14 L500.9 305.38 L502.8 307.2 L504.4 307.5 L507 309.3 L510.1 312.1 L512.5 311 L515 310.4 L518.3 312.9 L521.6 314.5 L524 313.2 L527.3 313.7 L530 314.3 L532.2 315.4 L534 313.8 L536.3 312.1 L538 313.3 L539.5 313.7 L542 311.8 L543.5 313.3 L545.3 314.5 L547.6 313.8" stroke="#24509c" stroke-width="1.4" fill="none" stroke-linejoin="round"/>
<path d="M363.3 314.08 L363.8 314.08 L364.3 314.08 L364.8 314.07 L365.3 314.07 L365.8 314.07 L366.3 314.06 L366.8 314.06 L367.3 314.05 L367.8 314.05 L368.3 314.04 L368.8 314.04 L369.3 314.03 L369.8 314.02 L370.3 314.02 L370.8 314.01 L371.3 314 L371.8 313.99 L372.3 313.98 L372.8 313.97 L373.3 313.95 L373.8 313.94 L374.3 313.92 L374.8 313.91 L375.3 313.89 L375.8 313.87 L376.3 313.85 L376.8 313.83 L377.3 313.81 L377.8 313.78 L378.3 313.75 L378.8 313.72 L379.3 313.69 L379.8 313.66 L380.3 313.62 L380.8 313.58 L381.3 313.54 L381.8 313.5 L382.3 313.45 L382.8 313.4 L383.3 313.35 L383.8 313.29 L384.3 313.23 L384.8 313.17 L385.3 313.1 L385.8 313.03 L386.3 312.96 L386.8 312.88 L387.3 312.8 L387.8 312.71 L388.3 312.62 L388.8 312.52 L389.3 312.42 L389.8 312.31 L390.3 312.2 L390.8 312.09 L391.3 311.97 L391.8 311.84 L392.3 311.71 L392.8 311.57 L393.3 311.43 L393.8 311.28 L394.3 311.13 L394.8 310.97 L395.3 310.81 L395.8 310.64 L396.3 310.47 L396.8 310.29 L397.3 310.1 L397.8 309.91 L398.3 309.72 L398.8 309.52 L399.3 309.31 L399.8 309.1 L400.3 308.89 L400.8 308.67 L401.3 308.45 L401.8 308.23 L402.3 308 L402.8 307.77 L403.3 307.53 L403.8 307.3 L404.3 307.06 L404.8 306.82 L405.3 306.58 L405.8 306.34 L406.3 306.09 L406.8 305.85 L407.3 305.61 L407.8 305.37 L408.3 305.13 L408.8 304.89 L409.3 304.65 L409.8 304.42 L410.3 304.19 L410.8 303.97 L411.3 303.75 L411.8 303.53 L412.3 303.32 L412.8 303.11 L413.3 302.92 L413.8 302.72 L414.3 302.54 L414.8 302.36 L415.3 302.2 L415.8 302.04 L416.3 301.89 L416.8 301.74 L417.3 301.61 L417.8 301.49 L418.3 301.38 L418.8 301.28 L419.3 301.19 L419.8 301.12 L420.3 301.05 L420.8 301 L421.3 300.95 L421.8 300.92 L422.3 300.91 L422.8 300.9 L423.3 300.91 L423.8 300.92 L424.3 300.95 L424.8 301 L425.3 301.05 L425.8 301.12 L426.3 301.19 L426.8 301.28 L427.3 301.38 L427.8 301.49 L428.3 301.61 L428.8 301.74 L429.3 301.89 L429.8 302.04 L430.3 302.2 L430.8 302.36 L431.3 302.54 L431.8 302.72 L432.3 302.92 L432.8 303.11 L433.3 303.32 L433.8 303.53 L434.3 303.75 L434.8 303.97 L435.3 304.19 L435.8 304.42 L436.3 304.65 L436.8 304.89 L437.3 305.13 L437.8 305.37 L438.3 305.61 L438.8 305.85 L439.3 306.09 L439.8 306.34 L440.3 306.58 L440.8 306.82 L441.3 307.06 L441.8 307.3 L442.3 307.53 L442.8 307.77 L443.3 308 L443.8 308.23 L444.3 308.45 L444.8 308.67 L445.3 308.89 L445.8 309.1 L446.3 309.31 L446.8 309.52 L447.3 309.72 L447.8 309.91 L448.3 310.1 L448.8 310.29 L449.3 310.47 L449.8 310.64 L450.3 310.81 L450.8 310.97 L451.3 311.13 L451.8 311.28 L452.3 311.43 L452.8 311.57 L453.3 311.71 L453.8 311.84 L454.3 311.97 L454.8 312.09 L455.3 312.2 L455.8 312.31 L456.3 312.42 L456.8 312.52 L457.3 312.62 L457.8 312.71 L458.3 312.8 L458.8 312.88 L459.3 312.96 L459.8 313.03 L460.3 313.1 L460.8 313.17 L461.3 313.23 L461.8 313.29 L462.3 313.35 L462.8 313.4 L463.3 313.45 L463.8 313.5 L464.3 313.54 L464.8 313.58 L465.3 313.62 L465.8 313.66 L466.3 313.69 L466.8 313.72 L467.3 313.75 L467.8 313.78 L468.3 313.81 L468.8 313.83 L469.3 313.85 L469.8 313.87 L470.3 313.89 L470.8 313.91 L471.3 313.92 L471.8 313.94 L472.3 313.95 L472.8 313.97 L473.3 313.98 L473.8 313.99 L474.3 314 L474.8 314.01 L475.3 314.02 L475.8 314.02 L476.3 314.03 L476.8 314.04 L477.3 314.04 L477.8 314.05 L478.3 314.05 L478.8 314.06 L479.3 314.06 L479.8 314.07 L480.3 314.07 L480.8 314.07 L481.3 314.08 L481.8 314.08 L482.3 314.08 L482.8 314.08 L483.3 314.08 L483.8 314.09 L484.3 314.09 L484.8 314.09 L485.3 314.09 L485.8 314.09 L486.3 314.09 L486.8 314.09 L487.3 314.09 L487.8 314.09 L488.3 314.1 L488.8 314.1 L489.3 314.1 L489.8 314.1 L490.3 314.1 L490.8 314.1 L491.3 314.1 L491.8 314.1 L492.3 314.1 L492.8 314.1 L493.3 314.1 L493.8 314.1 L494.3 314.1 L494.8 314.1 L495.3 314.1 L495.8 314.1 L496.3 314.1 L496.8 314.1 L497.3 314.1 L497.8 314.1 L498.3 314.1 L498.8 314.1 L499.3 314.1 L499.8 314.1 L500.3 314.1 L500.8 314.1 L501.3 314.1 L501.8 314.1 L502.3 314.1 L502.8 314.1 L503.3 314.1 L503.8 314.1 L504.3 314.1 L504.8 314.1 L505.3 314.1 L505.8 314.1 L506.3 314.1 L506.8 314.1 L507.3 314.1 L507.8 314.1 L508.3 314.1 L508.8 314.1 L509.3 314.1 L509.8 314.1 L510.3 314.1 L510.8 314.1 L511.3 314.1 L511.8 314.1 L512.3 314.1 L512.8 314.1 L513.3 314.1 L513.8 314.1 L514.3 314.1 L514.8 314.1 L515.3 314.1 L515.8 314.1 L516.3 314.1 L516.8 314.1 L517.3 314.1 L517.8 314.1 L518.3 314.1 L518.8 314.1 L519.3 314.1 L519.8 314.1 L520.3 314.1 L520.8 314.1 L521.3 314.1 L521.8 314.1 L522.3 314.1 L522.8 314.1 L523.3 314.1 L523.8 314.1 L524.3 314.1 L524.8 314.1 L525.3 314.1 L525.8 314.1 L526.3 314.1 L526.8 314.1 L527.3 314.1 L527.8 314.1 L528.3 314.1 L528.8 314.1 L529.3 314.1 L529.8 314.1 L530.3 314.1 L530.8 314.1 L531.3 314.1 L531.8 314.1 L532.3 314.1 L532.8 314.1 L533.3 314.1 L533.8 314.1 L534.3 314.1 L534.8 314.1 L535.3 314.1 L535.8 314.1 L536.3 314.1 L536.8 314.1 L537.3 314.1 L537.8 314.1 L538.3 314.1 L538.8 314.1 L539.3 314.1 L539.8 314.1 L540.3 314.1 L540.8 314.1 L541.3 314.1 L541.8 314.1 L542.3 314.1 L542.8 314.1 L543.3 314.1 L543.8 314.1 L544.3 314.1 L544.8 314.1 L545.3 314.1 L545.8 314.1 L546.3 314.1 L546.8 314.1 L547.3 314.1" stroke="#7cc4f5" stroke-width="1.3" fill="none" stroke-linejoin="round"/>
<path d="M363.3 314.1 L363.8 314.09 L364.3 314.07 L364.8 314.06 L365.3 314.05 L365.8 314.04 L366.3 314.03 L366.8 314.01 L367.3 314 L367.8 313.99 L368.3 313.98 L368.8 313.97 L369.3 313.96 L369.8 313.95 L370.3 313.94 L370.8 313.93 L371.3 313.92 L371.8 313.91 L372.3 313.9 L372.8 313.89 L373.3 313.87 L373.8 313.86 L374.3 313.85 L374.8 313.84 L375.3 313.82 L375.8 313.81 L376.3 313.79 L376.8 313.78 L377.3 313.76 L377.8 313.75 L378.3 313.73 L378.8 313.71 L379.3 313.69 L379.8 313.67 L380.3 313.65 L380.8 313.63 L381.3 313.6 L381.8 313.58 L382.3 313.55 L382.8 313.51 L383.3 313.48 L383.8 313.43 L384.3 313.39 L384.8 313.33 L385.3 313.28 L385.8 313.22 L386.3 313.16 L386.8 313.1 L387.3 313.03 L387.8 312.96 L388.3 312.88 L388.8 312.81 L389.3 312.73 L389.8 312.65 L390.3 312.56 L390.8 312.46 L391.3 312.35 L391.8 312.23 L392.3 312.11 L392.8 311.97 L393.3 311.83 L393.8 311.69 L394.3 311.53 L394.8 311.38 L395.3 311.22 L395.8 311.05 L396.3 310.88 L396.8 310.71 L397.3 310.54 L397.8 310.36 L398.3 310.18 L398.8 309.99 L399.3 309.79 L399.8 309.57 L400.3 309.35 L400.8 309.12 L401.3 308.89 L401.8 308.65 L402.3 308.41 L402.8 308.16 L403.3 307.91 L403.8 307.66 L404.3 307.41 L404.8 307.15 L405.3 306.9 L405.8 306.65 L406.3 306.4 L406.8 306.15 L407.3 305.9 L407.8 305.64 L408.3 305.39 L408.8 305.13 L409.3 304.87 L409.8 304.6 L410.3 304.34 L410.8 304.07 L411.3 303.79 L411.8 303.52 L412.3 303.24 L412.8 302.95 L413.3 302.67 L413.8 302.38 L414.3 302.08 L414.8 301.79 L415.3 301.49 L415.8 301.19 L416.3 300.89 L416.8 300.58 L417.3 300.28 L417.8 299.96 L418.3 299.64 L418.8 299.32 L419.3 298.99 L419.8 298.65 L420.3 298.3 L420.8 297.94 L421.3 297.57 L421.8 297.19 L422.3 296.8 L422.8 296.4 L423.3 295.98 L423.8 295.56 L424.3 295.12 L424.8 294.67 L425.3 294.21 L425.8 293.73 L426.3 293.24 L426.8 292.74 L427.3 292.23 L427.8 291.7 L428.3 291.15 L428.8 290.6 L429.3 290.03 L429.8 289.44 L430.3 288.84 L430.8 288.23 L431.3 287.58 L431.8 286.9 L432.3 286.19 L432.8 285.46 L433.3 284.7 L433.8 283.92 L434.3 283.11 L434.8 282.3 L435.3 281.46 L435.8 280.61 L436.3 279.75 L436.8 278.88 L437.3 277.99 L437.8 277.07 L438.3 276.12 L438.8 275.14 L439.3 274.14 L439.8 273.13 L440.3 272.09 L440.8 271.04 L441.3 269.98 L441.8 268.92 L442.3 267.84 L442.8 266.77 L443.3 265.69 L443.8 264.59 L444.3 263.49 L444.8 262.37 L445.3 261.24 L445.8 260.1 L446.3 258.94 L446.8 257.77 L447.3 256.58 L447.8 255.37 L448.3 254.15 L448.8 252.89 L449.3 251.59 L449.8 250.25 L450.3 248.88 L450.8 247.49 L451.3 246.09 L451.8 244.69 L452.3 243.31 L452.8 241.95 L453.3 240.62 L453.8 239.34 L454.3 238.11 L454.8 236.9 L455.3 235.69 L455.8 234.51 L456.3 233.36 L456.8 232.26 L457.3 231.19 L457.8 230.19 L458.3 229.22 L458.8 228.23 L459.3 227.25 L459.8 226.31 L460.3 225.44 L460.8 224.68 L461.3 224.07 L461.8 223.62 L462.3 223.25 L462.8 222.89 L463.3 222.56 L463.8 222.28 L464.3 222.05 L464.8 221.89 L465.3 221.81 L465.8 221.82 L466.3 221.95 L466.8 222.18 L467.3 222.49 L467.8 222.87 L468.3 223.31 L468.8 223.78 L469.3 224.28 L469.8 224.79 L470.3 225.3 L470.8 225.83 L471.3 226.41 L471.8 227.06 L472.3 227.78 L472.8 228.57 L473.3 229.44 L473.8 230.39 L474.3 231.45 L474.8 232.79 L475.3 234.39 L475.8 236.15 L476.3 237.98 L476.8 239.8 L477.3 241.55 L477.8 243.33 L478.3 245.15 L478.8 247 L479.3 248.87 L479.8 250.75 L480.3 252.63 L480.8 254.5 L481.3 256.4 L481.8 258.33 L482.3 260.29 L482.8 262.24 L483.3 264.16 L483.8 266.02 L484.3 267.81 L484.8 269.5 L485.3 271.12 L485.8 272.68 L486.3 274.2 L486.8 275.69 L487.3 277.18 L487.8 278.68 L488.3 280.22 L488.8 281.82 L489.3 283.45 L489.8 285.07 L490.3 286.63 L490.8 288.09 L491.3 289.4 L491.8 290.6 L492.3 291.73 L492.8 292.82 L493.3 293.85 L493.8 294.85 L494.3 295.8 L494.8 296.73 L495.3 297.63 L495.8 298.51 L496.3 299.37 L496.8 300.23 L497.3 301.08 L497.8 301.92 L498.3 302.74 L498.8 303.53 L499.3 304.28 L499.8 304.99 L500.3 305.66 L500.8 306.27 L501.3 306.81 L501.8 307.35 L502.3 307.87 L502.8 308.38 L503.3 308.87 L503.8 309.34 L504.3 309.8 L504.8 310.22 L505.3 310.61 L505.8 310.98 L506.3 311.3 L506.8 311.59 L507.3 311.84 L507.8 312.04 L508.3 312.22 L508.8 312.4 L509.3 312.57 L509.8 312.74 L510.3 312.9 L510.8 313.05 L511.3 313.19 L511.8 313.32 L512.3 313.44 L512.8 313.55 L513.3 313.65 L513.8 313.73 L514.3 313.8 L514.8 313.85 L515.3 313.88 L515.8 313.9 L516.3 313.91 L516.8 313.91 L517.3 313.92 L517.8 313.93 L518.3 313.93 L518.8 313.94 L519.3 313.95 L519.8 313.95 L520.3 313.96 L520.8 313.96 L521.3 313.97 L521.8 313.97 L522.3 313.98 L522.8 313.98 L523.3 313.99 L523.8 313.99 L524.3 313.99 L524.8 314 L525.3 314 L525.8 314 L526.3 314.01 L526.8 314.01 L527.3 314.01 L527.8 314.02 L528.3 314.02 L528.8 314.02 L529.3 314.02 L529.8 314.03 L530.3 314.03 L530.8 314.03 L531.3 314.03 L531.8 314.04 L532.3 314.04 L532.8 314.04 L533.3 314.04 L533.8 314.04 L534.3 314.04 L534.8 314.05 L535.3 314.05 L535.8 314.05 L536.3 314.05 L536.8 314.05 L537.3 314.05 L537.8 314.06 L538.3 314.06 L538.8 314.06 L539.3 314.06 L539.8 314.06 L540.3 314.07 L540.8 314.07 L541.3 314.07 L541.8 314.07 L542.3 314.07 L542.8 314.07 L543.3 314.08 L543.8 314.08 L544.3 314.08 L544.8 314.08 L545.3 314.09 L545.8 314.09 L546.3 314.09 L546.8 314.09 L547.3 314.1" stroke="#ff4a1c" stroke-width="1.5" fill="none" stroke-linejoin="round" stroke-dasharray="6.5 3.5"/>
<text x="367.4" y="210.9" font-size="13" font-weight="bold" fill="#111">(e)</text>
<text x="406.1" y="213.9" font-size="13" font-weight="bold" fill="#111">O</text><text x="416.5" y="216.2" font-size="8.2" font-weight="bold" fill="#111">1s</text></svg>
</body></html>
